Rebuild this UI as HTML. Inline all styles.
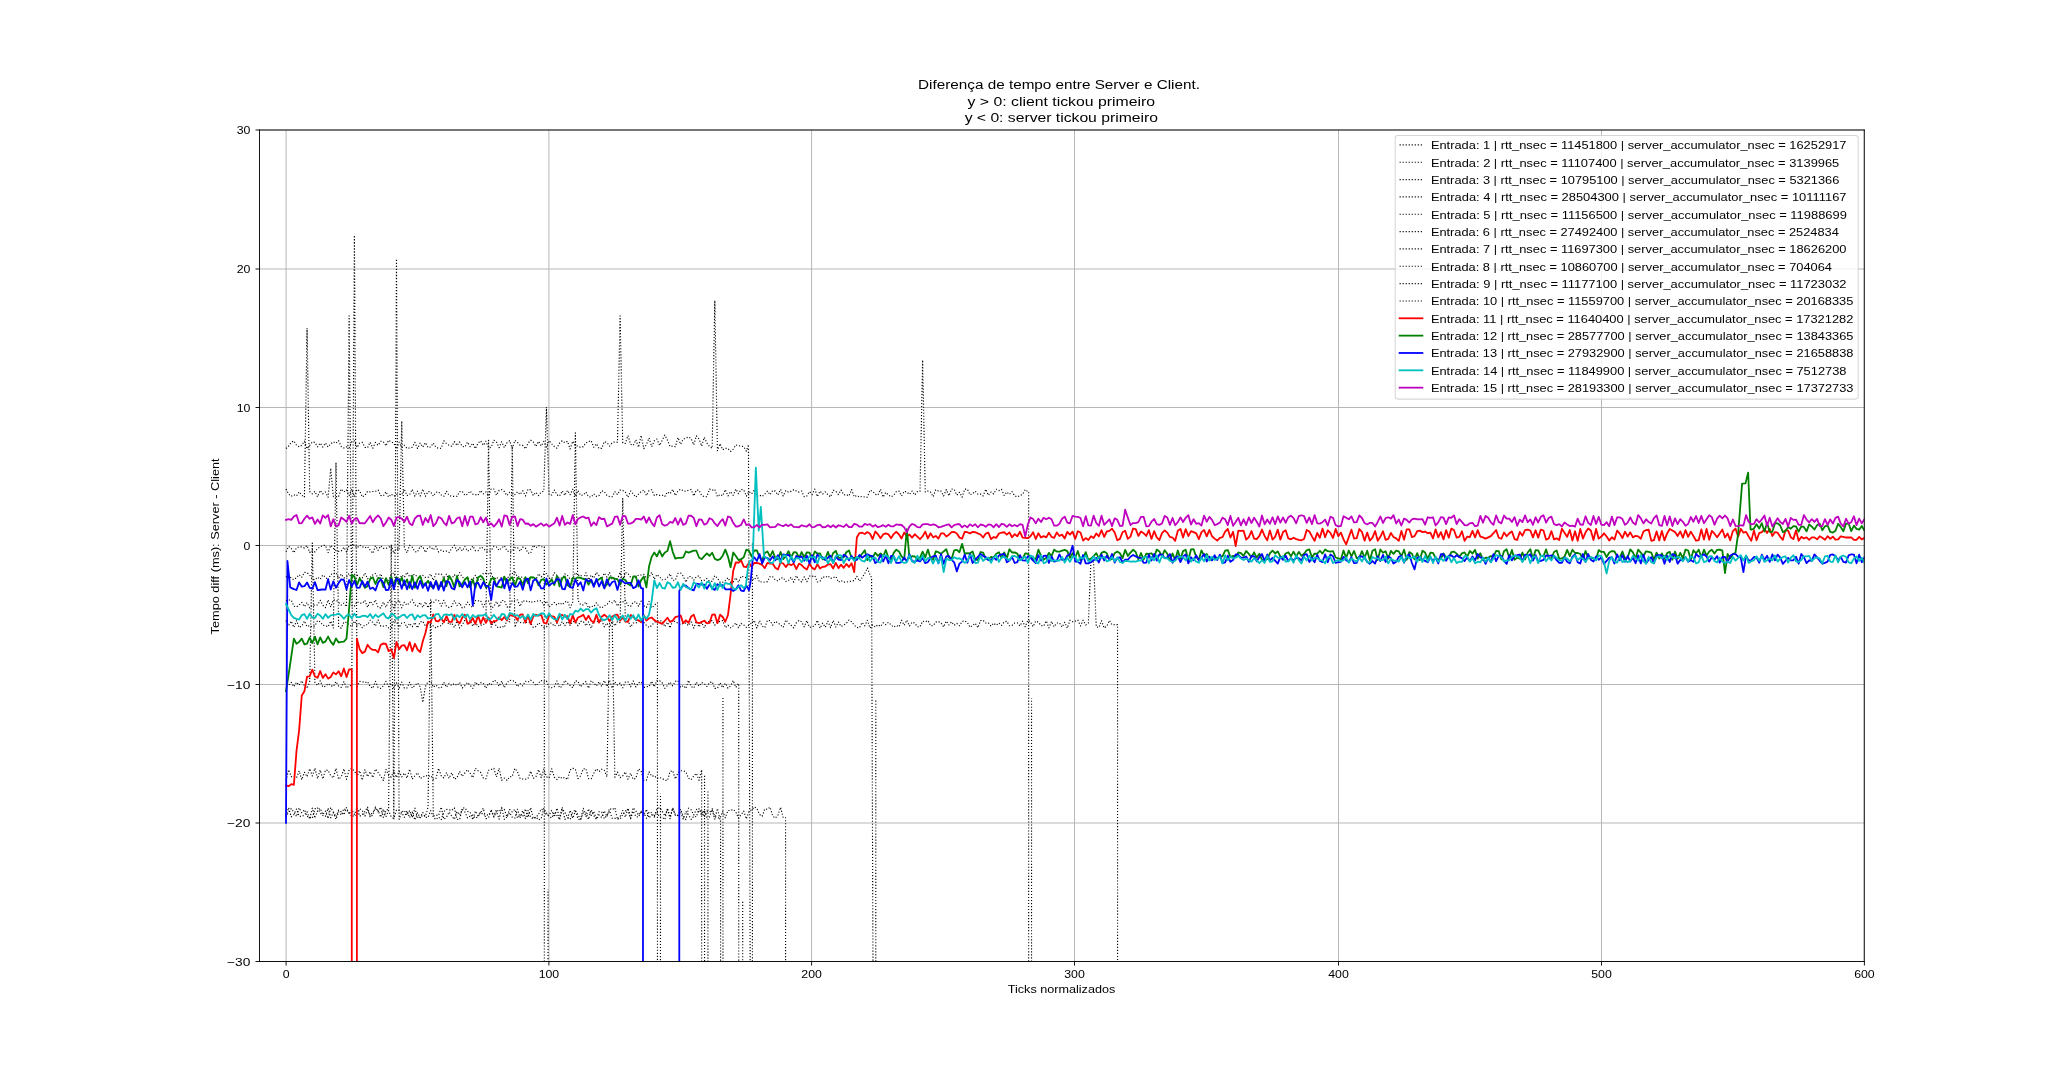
<!DOCTYPE html>
<html><head><meta charset="utf-8"><title>chart</title><style>html,body{margin:0;padding:0;background:#fff;width:2071px;height:1080px;overflow:hidden;}body{font-family:"Liberation Sans", sans-serif;position:relative}</style></head><body>
<svg width="2071" height="1080" viewBox="0 0 2071 1080" style="position:absolute;left:0;top:0;will-change:transform" font-family='"Liberation Sans", sans-serif'>
<rect x="0" y="0" width="2071" height="1080" fill="#ffffff"/>
<defs><clipPath id="ax"><rect x="259.5" y="130.0" width="1604.90" height="831.50"/></clipPath></defs>
<path d="M286.10 130.0V961.5M548.90 130.0V961.5M811.60 130.0V961.5M1074.50 130.0V961.5M1338.50 130.0V961.5M1601.50 130.0V961.5M1864.40 130.0V961.5M259.5 961.50H1864.4M259.5 823.00H1864.4M259.5 684.50H1864.4M259.5 545.50H1864.4M259.5 407.50H1864.4M259.5 269.00H1864.4M259.5 130.00H1864.4" stroke="#b0b0b0" stroke-width="0.92" fill="none"/>
<g clip-path="url(#ax)" fill="none" stroke-linejoin="round" stroke-linecap="butt">
<path d="M286.00 448.45L288.63 446.21L291.26 442.23L293.89 440.95L296.52 445.36L299.15 446.88L301.78 445.26L304.41 441.20L307.05 448.81L309.68 445.37L312.31 441.88L314.94 442.48L317.57 446.84L320.20 443.09L322.83 447.12L325.46 443.05L328.09 446.98L330.72 443.84L333.35 441.82L335.98 443.22L338.61 440.68L341.24 446.51L343.88 447.93L346.51 446.84L349.14 447.78L351.77 441.71L354.40 440.73L357.03 447.47L359.66 443.01L362.29 442.36L364.92 447.32L367.55 447.79L370.18 442.27L372.81 448.19L375.44 442.44L378.07 445.36L380.71 441.27L383.34 441.69L385.97 445.89L388.60 440.22L391.23 441.89L393.86 443.05L396.49 448.84L399.12 442.19L401.75 447.32L404.38 445.27L407.01 448.34L409.64 448.04L412.27 447.21L414.90 442.32L417.53 448.53L420.17 443.17L422.80 447.08L425.43 442.62L428.06 447.60L430.69 446.98L433.32 443.06L435.95 447.45L438.58 448.26L441.21 448.33L443.84 440.75L446.47 443.61L449.10 445.31L451.73 446.19L454.36 441.57L457.00 445.51L459.63 441.93L462.26 446.28L464.89 446.97L467.52 442.14L470.15 446.71L472.78 443.21L475.41 448.64L478.04 443.13L480.67 440.84L483.30 445.32L485.93 441.21L488.56 447.91L491.19 447.30L493.83 440.24L496.46 441.97L499.09 447.70L501.72 441.75L504.35 447.63L506.98 442.80L509.61 440.62L512.24 448.49L514.87 440.38L517.50 442.35L520.13 445.28L522.76 445.39L525.39 448.88L528.02 443.27L530.66 440.25L533.29 442.00L535.92 446.56L538.55 441.38L541.18 445.98L543.81 441.41L546.44 447.14L549.07 440.64L551.70 443.85L554.33 446.49L556.96 448.20L559.59 443.12L562.22 440.76L564.85 442.63L567.48 441.33L570.12 448.97L572.75 441.19L575.38 445.89L578.01 446.05L580.64 447.51L583.27 446.64L585.90 442.82L588.53 441.64L591.16 440.58L593.79 447.33L596.42 443.77L599.05 448.52L601.68 448.37L604.31 441.60L606.95 442.50L609.58 446.10L612.21 442.92L614.84 441.79L617.47 442.20L620.10 315.71L622.73 442.93L625.36 443.39L627.99 435.56L630.62 444.27L633.25 445.33L635.88 439.79L638.51 447.24L641.14 435.41L643.78 448.57L646.41 444.59L649.04 437.97L651.67 446.69L654.30 440.71L656.93 439.03L659.56 445.50L662.19 440.40L664.82 435.06L667.45 440.12L670.08 446.49L672.71 446.05L675.34 446.75L677.97 437.59L680.61 444.31L683.24 439.12L685.87 438.14L688.50 436.99L691.13 438.48L693.76 444.78L696.39 435.79L699.02 438.99L701.65 446.06L704.28 437.27L706.91 442.97L709.54 446.48L712.17 448.23L714.80 300.46L717.43 450.78L720.07 443.69L722.70 449.75L725.33 448.25L727.96 448.59L730.59 451.46L733.22 449.11L735.85 444.92L738.48 445.70L741.11 446.23L743.74 446.62L746.37 451.17L748.48 444.59L750.84 1169.36L752.42 1169.36L752.42 542.15" stroke="#000" stroke-width="1.14" stroke-dasharray="1.14 1.88"/>
<path d="M286.00 489.12L288.63 494.01L291.26 496.31L293.89 494.80L296.52 495.86L299.15 491.91L301.78 495.10L304.41 497.23L307.05 328.18L309.68 491.52L312.31 493.81L314.94 491.34L317.57 496.86L320.20 490.49L322.83 493.80L325.46 491.98L328.09 497.24L330.72 468.15L333.35 496.53L335.98 496.92L338.61 496.50L341.24 489.00L343.88 491.90L346.51 489.94L349.14 495.59L351.77 489.20L354.40 496.65L357.03 489.35L359.66 490.84L362.29 496.97L364.92 495.43L367.55 491.32L370.18 491.88L372.81 491.52L375.44 491.37L378.07 489.97L380.71 495.54L383.34 495.79L385.97 491.73L388.60 497.01L391.23 493.98L393.86 496.28L396.49 494.39L399.12 493.92L401.75 494.68L404.38 489.37L407.01 495.56L409.64 494.58L412.27 489.35L414.90 496.25L417.53 491.19L420.17 496.09L422.80 489.09L425.43 496.29L428.06 491.56L430.69 491.91L433.32 496.16L435.95 492.31L438.58 491.93L441.21 494.93L443.84 496.34L446.47 491.27L449.10 495.30L451.73 496.33L454.36 496.38L457.00 496.21L459.63 491.67L462.26 491.35L464.89 495.30L467.52 494.16L470.15 491.08L472.78 494.22L475.41 494.63L478.04 495.20L480.67 490.49L483.30 493.91L485.93 491.90L488.56 495.96L491.19 488.99L493.83 488.95L496.46 495.28L499.09 490.38L501.72 489.64L504.35 491.56L506.98 495.57L509.61 492.34L512.24 494.11L514.87 494.56L517.50 491.82L520.13 494.48L522.76 490.82L525.39 495.98L528.02 489.26L530.66 489.89L533.29 495.52L535.92 492.28L538.55 495.57L541.18 492.13L543.81 491.17L546.44 407.17L549.07 494.74L551.70 495.03L554.33 490.04L556.96 494.79L559.59 496.09L562.22 490.87L564.85 495.43L567.48 490.39L570.12 494.72L572.75 489.16L575.38 496.38L578.01 490.45L580.64 495.35L583.27 495.11L585.90 492.04L588.53 496.72L591.16 497.10L593.79 493.80L596.42 496.46L599.05 495.47L601.68 490.85L604.31 491.52L606.95 495.40L609.58 496.56L612.21 496.67L614.84 491.65L617.47 494.63L620.10 490.07L622.73 490.40L625.36 492.13L627.99 497.24L630.62 490.99L633.25 494.02L635.88 497.21L638.51 494.17L641.14 491.65L643.78 490.06L646.41 495.56L649.04 490.55L651.67 489.80L654.30 495.54L656.93 494.62L659.56 495.34L662.19 495.14L664.82 496.48L667.45 491.95L670.08 493.82L672.71 489.35L675.34 495.52L677.97 491.04L680.61 489.16L683.24 490.80L685.87 491.30L688.50 490.14L691.13 489.45L693.76 495.91L696.39 490.11L699.02 490.22L701.65 495.35L704.28 496.83L706.91 496.60L709.54 489.13L712.17 490.32L714.80 489.34L717.43 496.60L720.07 494.42L722.70 495.78L725.33 489.62L727.96 495.88L730.59 491.57L733.22 495.36L735.85 489.05L738.48 493.72L741.11 489.51L743.74 489.80L746.37 496.10L749.00 491.52L751.63 493.81L754.26 489.80L756.90 496.36L759.53 495.14L762.16 496.50L764.79 494.19L767.42 491.12L770.05 494.76L772.68 490.50L775.31 491.17L777.94 495.06L780.57 489.39L783.20 496.01L785.83 490.56L788.46 492.19L791.09 491.39L793.73 489.65L796.36 491.08L798.99 492.14L801.62 491.08L804.25 496.72L806.88 495.94L809.51 491.64L812.14 494.53L814.77 489.08L817.40 496.61L820.03 491.18L822.66 493.99L825.29 491.88L827.92 494.75L830.55 496.97L833.19 490.21L835.82 491.31L838.45 494.55L841.08 490.07L843.71 494.97L846.34 494.54L848.97 495.95L851.60 489.56L854.23 496.82L856.86 495.49L859.49 497.07L862.12 496.37L864.75 497.02L867.38 497.17L870.02 490.27L872.65 491.17L875.28 494.33L877.91 494.96L880.54 489.31L883.17 497.11L885.80 492.37L888.43 494.98L891.06 496.83L893.69 495.26L896.32 491.63L898.95 491.09L901.58 495.97L904.21 491.35L906.85 492.13L909.48 494.44L912.11 490.98L914.74 494.92L917.37 491.62L920.00 491.28L922.63 360.05L925.26 491.96L927.89 490.95L930.52 492.00L933.15 496.70L935.78 489.75L938.41 491.07L941.04 491.08L943.67 495.90L946.31 489.51L948.94 495.79L951.57 488.99L954.20 489.49L956.83 495.17L959.46 492.30L962.09 497.23L964.72 489.15L967.35 489.23L969.98 494.79L972.61 493.74L975.24 491.23L977.87 494.23L980.50 494.04L983.14 496.01L985.77 489.29L988.40 495.41L991.03 491.98L993.66 493.93L996.29 489.22L998.92 490.62L1001.55 489.37L1004.18 495.45L1006.81 492.05L1009.44 494.46L1012.07 491.71L1014.70 495.91L1017.33 496.91L1019.97 495.51L1022.60 494.29L1025.23 489.58L1027.86 491.72L1028.65 491.72L1028.65 1169.36L1031.54 1169.36L1031.54 698.19" stroke="#000" stroke-width="1.14" stroke-dasharray="1.14 1.88"/>
<path d="M286.00 551.76L288.63 546.46L291.26 548.36L293.89 552.80L296.52 547.76L299.15 546.93L301.78 546.91L304.41 548.06L307.05 545.52L309.68 552.46L312.31 550.06L314.94 551.93L317.57 548.48L320.20 546.92L322.83 545.49L325.46 545.34L328.09 552.67L330.72 545.28L333.35 548.25L335.98 550.60L338.61 551.38L341.24 550.90L343.88 547.23L346.51 551.91L349.14 545.40L351.77 545.31L354.40 545.09L357.03 548.01L359.66 545.18L362.29 546.58L364.92 547.84L367.55 546.56L370.18 550.06L372.81 553.34L375.44 545.76L378.07 550.37L380.71 545.87L383.34 548.43L385.97 548.43L388.60 547.42L391.23 545.13L393.86 553.37L396.49 548.32L399.12 549.95L401.75 421.03L404.38 548.04L407.01 552.90L409.64 545.20L412.27 547.26L414.90 551.68L417.53 551.94L420.17 546.40L422.80 546.80L425.43 552.38L428.06 547.53L430.69 546.75L433.32 549.88L435.95 546.54L438.58 552.01L441.21 550.05L443.84 551.49L446.47 551.08L449.10 552.45L451.73 548.38L454.36 545.19L457.00 551.45L459.63 547.46L462.26 550.94L464.89 546.49L467.52 551.17L470.15 549.93L472.78 545.99L475.41 550.62L478.04 550.68L480.67 547.05L483.30 548.23L485.93 551.02L488.56 551.39L491.19 550.44L493.83 546.29L496.46 547.00L499.09 550.27L501.72 547.92L504.35 545.63L506.98 550.82L509.61 552.11L512.24 551.06L514.87 547.56L517.50 547.63L520.13 551.31L522.76 547.14L525.39 548.04L528.02 553.17L530.66 553.33L533.29 545.23L535.92 547.81L538.55 545.63L541.18 546.76L544.33 546.76L544.33 1169.36L548.02 1169.36L548.02 889.43" stroke="#000" stroke-width="1.14" stroke-dasharray="1.14 1.88"/>
<path d="M286.00 577.23L288.63 575.07L291.26 578.28L293.89 579.69L296.52 577.65L299.15 574.64L301.78 577.24L304.41 572.34L307.05 572.76L309.68 574.93L312.31 579.08L314.94 579.88L317.57 577.17L320.20 579.23L322.83 574.99L325.46 577.18L328.09 579.92L330.72 574.55L333.35 573.59L335.98 572.62L338.61 578.32L341.24 574.09L343.88 577.94L346.51 577.01L349.14 573.40L351.77 578.75L354.40 574.40L357.03 574.92L359.66 577.58L362.29 577.84L364.92 572.97L367.55 578.83L370.18 577.22L372.81 574.81L375.44 573.44L378.07 578.03L380.71 573.99L383.34 579.33L385.97 580.24L388.60 580.25L391.23 574.59L393.86 572.87L396.49 580.19L399.12 579.75L401.75 574.94L404.38 577.34L407.01 572.22L409.64 576.89L412.27 575.01L414.90 574.33L417.53 577.20L420.17 578.36L422.80 575.40L425.43 577.46L428.06 577.39L430.69 573.88L433.32 580.39L435.95 573.74L438.58 574.17L441.21 573.93L443.84 578.31L446.47 574.13L449.10 580.00L451.73 578.62L454.36 574.72L457.00 577.60L459.63 572.54L462.26 577.04L464.89 578.86L467.52 578.29L470.15 579.17L472.78 579.49L475.41 575.29L478.04 579.95L480.67 580.13L483.30 573.29L485.93 573.34L488.56 573.75L491.19 573.19L493.83 580.12L496.46 577.12L499.09 580.26L501.72 577.02L504.35 577.31L506.98 579.22L509.61 575.02L512.24 573.60L514.87 572.34L517.50 576.87L520.13 576.91L522.76 577.27L525.39 579.63L528.02 578.81L530.66 577.57L533.29 578.03L535.92 579.59L538.55 573.75L541.18 576.98L543.81 573.89L546.44 573.47L549.07 578.14L551.70 578.71L554.33 572.65L556.96 575.31L559.59 578.21L562.22 577.96L564.85 573.89L567.48 575.28L570.12 579.06L572.75 578.67L575.38 572.58L578.01 575.38L580.64 574.92L583.27 579.82L585.90 572.79L588.53 579.95L591.16 575.09L593.79 578.06L596.42 572.42L599.05 575.59L601.68 578.79L604.31 573.09L606.95 577.13L609.58 572.62L612.21 579.57L614.84 579.08L617.47 579.02L620.10 572.39L622.73 580.08L625.36 572.55L627.99 573.45L630.62 577.36L633.25 578.14L635.88 577.33L638.51 575.11L641.14 574.99L643.78 574.30L646.41 578.10L649.04 577.19L651.67 572.31L654.30 579.17L656.93 574.55L659.56 576.93L662.19 579.79L664.82 579.71L667.45 577.42L670.08 573.86L672.71 580.18L675.34 580.28L677.97 573.31L680.61 572.98L683.24 576.04L685.87 582.26L688.50 576.73L691.13 576.42L693.76 580.21L696.39 576.64L699.02 575.84L701.65 580.71L704.28 580.36L706.91 578.45L709.54 581.12L712.17 581.34L714.80 575.69L717.43 578.03L720.07 582.40L722.70 582.24L725.33 580.45L727.96 577.73L730.59 582.26L733.22 581.82L735.85 577.79L738.48 582.32L741.11 576.16L743.74 576.88L746.37 577.72L749.00 579.99L751.63 578.40L754.26 579.89L756.90 575.57L759.53 582.15L762.16 581.68L764.79 582.33L767.42 581.65L770.05 576.45L772.68 576.86L775.31 579.98L777.94 580.95L780.57 577.99L783.20 577.74L785.83 581.54L788.46 580.50L791.09 577.24L793.73 582.11L796.36 575.66L798.99 579.99L801.62 581.95L804.25 576.86L806.88 581.64L809.51 576.06L812.14 576.41L814.77 575.73L817.40 582.02L820.03 581.26L822.66 576.67L825.29 577.59L827.92 575.85L830.55 578.38L833.19 577.74L835.82 576.54L838.45 582.17L841.08 580.53L843.71 582.15L846.34 582.13L848.97 581.59L851.60 581.08L854.23 580.57L856.86 576.39L859.49 581.14L862.12 577.75L864.75 573.47L867.38 567.92L870.02 574.85L871.59 577.62L873.70 1169.36L875.80 1169.36L875.80 699.57" stroke="#000" stroke-width="1.14" stroke-dasharray="1.14 1.88"/>
<path d="M286.00 600.71L288.63 600.00L291.26 600.07L293.89 606.22L296.52 606.87L299.15 604.98L301.78 602.46L304.41 606.61L307.05 602.56L309.68 607.82L312.31 605.14L314.94 605.07L317.57 605.02L320.20 600.25L322.83 605.34L325.46 607.66L328.09 599.93L330.72 606.97L333.35 600.00L335.98 599.91L338.61 602.27L341.24 605.16L343.88 603.10L346.51 606.71L349.14 315.71L351.77 605.67L354.40 606.28L357.03 601.63L359.66 603.13L362.29 603.25L364.92 600.34L367.55 607.36L370.18 601.29L372.81 604.74L375.44 599.95L378.07 607.25L380.71 607.91L383.34 602.08L385.97 607.32L388.60 600.69L391.23 600.29L393.86 607.92L396.49 602.13L399.12 600.09L401.75 607.84L404.38 602.23L407.01 605.20L409.64 602.80L412.27 599.81L414.90 604.75L417.53 606.46L420.17 602.49L422.80 607.50L425.43 601.84L428.06 607.81L430.69 601.59L433.32 602.87L435.95 599.97L438.58 600.55L441.21 606.11L443.84 600.34L446.47 606.18L449.10 607.59L451.73 606.18L454.36 600.75L457.00 605.61L459.63 602.81L462.26 608.07L464.89 606.79L467.52 602.13L470.15 605.54L472.78 607.64L475.41 600.55L478.04 600.88L480.67 600.65L483.30 607.07L485.93 601.61L488.56 600.89L491.19 607.92L493.83 606.63L496.46 601.40L499.09 606.95L501.72 600.44L504.35 600.51L506.98 606.85L509.61 607.50L512.24 600.35L514.87 600.90L517.50 599.95L520.13 606.45L522.76 600.37L525.39 601.64L528.02 600.79L530.66 602.72L533.29 601.28L535.92 601.84L538.55 600.59L541.18 600.78L543.81 605.14L546.44 601.03L549.07 607.00L551.70 604.73L554.33 602.53L556.96 605.05L559.59 602.69L562.22 604.70L564.85 601.99L567.48 601.24L570.12 607.77L572.75 601.90L575.38 432.81L578.01 600.39L580.64 604.70L583.27 604.91L585.90 602.13L588.53 607.96L591.16 606.06L593.79 606.85L596.42 602.83L599.05 606.57L601.68 608.00L604.31 605.82L606.95 604.58L609.58 601.33L612.21 602.83L614.84 600.18L617.47 606.10L620.10 602.30L622.73 601.99L625.36 600.10L627.99 605.50L630.62 606.33L633.25 602.20L635.88 601.59L638.51 606.26L641.14 601.13L643.78 605.61L646.41 607.50L649.04 601.45L651.67 607.88L654.30 605.45L656.93 602.78L657.45 602.78L657.45 1169.36L660.48 1169.36L660.48 793.81" stroke="#000" stroke-width="1.14" stroke-dasharray="1.14 1.88"/>
<path d="M286.00 620.52L288.63 625.60L291.26 621.08L293.89 627.36L296.52 620.70L299.15 627.51L301.78 626.13L304.41 621.01L307.05 626.63L309.68 625.61L312.31 627.09L314.94 625.86L317.57 620.60L320.20 621.85L322.83 625.37L325.46 625.70L328.09 626.75L330.72 621.11L333.35 627.97L335.98 462.60L338.61 627.14L341.24 628.12L343.88 622.15L346.51 622.35L349.14 624.99L351.77 626.53L354.40 621.08L357.03 625.36L359.66 622.94L362.29 627.73L364.92 624.72L367.55 624.73L370.18 620.23L372.81 622.34L375.44 626.05L378.07 619.89L380.71 626.17L383.34 626.08L385.97 625.54L388.60 627.82L391.23 627.81L393.86 620.49L396.49 621.60L399.12 627.17L401.75 623.12L404.38 622.48L407.01 627.44L409.64 623.35L412.27 626.75L414.90 622.52L417.53 627.95L420.17 621.97L422.80 621.26L425.43 626.35L428.06 622.92L430.69 625.75L433.32 625.81L435.95 628.10L438.58 626.00L441.21 625.80L443.84 621.70L446.47 620.11L449.10 624.69L451.73 623.22L454.36 627.40L457.00 620.89L459.63 627.99L462.26 624.89L464.89 620.08L467.52 621.93L470.15 620.55L472.78 626.33L475.41 622.14L478.04 626.88L480.67 625.18L483.30 625.02L485.93 621.14L488.56 440.43L491.19 627.15L493.83 620.48L496.46 626.86L499.09 627.88L501.72 626.27L504.35 627.47L506.98 620.09L509.61 621.87L512.24 445.97L514.87 627.19L517.50 620.60L520.13 622.41L522.76 623.13L525.39 622.44L528.02 621.90L530.66 623.31L533.29 627.56L535.92 626.56L538.55 622.81L541.18 624.86L543.81 627.38L546.44 627.15L549.07 623.15L551.70 623.02L554.33 626.31L556.96 623.16L559.59 626.51L562.22 621.57L564.85 625.67L567.48 621.42L570.12 625.46L572.75 621.43L575.38 621.94L578.01 625.79L580.64 621.40L583.27 621.41L585.90 625.82L588.53 621.87L591.16 628.20L593.79 621.08L596.42 621.14L599.05 622.11L601.68 619.99L604.31 626.88L606.95 623.21L609.58 627.35L612.21 620.91L614.84 625.97L617.47 621.51L620.10 622.63L622.73 498.63L625.36 621.76L627.99 620.37L630.62 627.01L633.25 623.03L635.88 623.25L638.51 620.77L641.14 620.85L643.78 622.41L646.41 625.39L649.04 627.42L651.67 625.43L654.30 622.52L656.93 620.79L659.56 620.92L662.19 620.68L664.82 626.78L667.45 622.13L670.08 628.02L672.71 620.17L675.34 621.88L677.97 623.24L680.61 624.71L683.24 623.41L685.87 623.11L688.50 625.64L691.13 621.94L693.76 628.12L696.39 621.33L699.02 626.89L701.65 622.47L704.28 627.81L706.91 621.84L709.54 621.39L712.17 620.56L714.80 625.10L717.43 621.75L720.07 621.55L722.70 620.56L725.33 627.65L727.96 625.22L730.59 627.74L733.22 625.86L735.85 622.95L738.48 627.69L741.11 623.41L743.74 624.96L746.37 627.39L749.00 624.99L751.63 622.98L754.26 620.47L756.90 628.04L759.53 620.68L762.16 625.96L764.79 627.65L767.42 620.36L770.05 620.60L772.68 625.14L775.31 621.29L777.94 622.88L780.57 625.07L783.20 627.42L785.83 619.96L788.46 622.98L791.09 625.23L793.73 627.91L796.36 622.77L798.99 620.39L801.62 621.81L804.25 626.84L806.88 620.58L809.51 627.27L812.14 626.88L814.77 625.64L817.40 620.31L820.03 628.18L822.66 623.21L825.29 627.22L827.92 621.22L830.55 627.62L833.19 620.48L835.82 627.03L838.45 621.99L841.08 626.55L843.71 625.04L846.34 623.38L848.97 620.00L851.60 621.73L854.23 625.10L856.86 627.48L859.49 627.72L862.12 622.52L864.75 625.89L867.38 620.30L870.02 628.14L872.65 624.83L875.28 627.01L877.91 624.68L880.54 626.42L883.17 622.82L885.80 624.72L888.43 622.35L891.06 624.88L893.69 627.15L896.32 625.44L898.95 626.77L901.58 620.33L904.21 625.32L906.85 620.16L909.48 626.03L912.11 622.15L914.74 623.11L917.37 626.74L920.00 626.82L922.63 621.17L925.26 621.72L927.89 620.47L930.52 625.61L933.15 625.73L935.78 622.11L938.41 621.50L941.04 622.85L943.67 626.97L946.31 621.08L948.94 624.95L951.57 621.87L954.20 625.30L956.83 623.42L959.46 625.76L962.09 621.33L964.72 620.89L967.35 622.42L969.98 627.24L972.61 625.52L975.24 623.24L977.87 627.75L980.50 620.65L983.14 620.37L985.77 623.04L988.40 622.95L991.03 626.08L993.66 623.18L996.29 625.29L998.92 623.07L1001.55 625.44L1004.18 621.94L1006.81 621.26L1009.44 625.81L1012.07 625.35L1014.70 623.02L1017.33 622.93L1019.97 625.91L1022.60 621.14L1025.23 626.78L1027.86 620.20L1030.49 621.99L1033.12 626.71L1035.75 621.15L1038.38 622.14L1041.01 625.57L1043.64 626.00L1046.27 620.91L1048.90 627.87L1051.53 621.34L1054.16 626.75L1056.80 623.06L1059.43 622.86L1062.06 627.06L1064.69 622.27L1067.32 628.20L1069.95 620.30L1072.58 621.72L1075.21 621.16L1077.84 619.97L1080.47 625.91L1083.10 620.21L1085.73 624.92L1088.36 623.02L1090.99 559.61L1093.62 562.38L1096.26 626.82L1098.89 627.54L1101.52 620.66L1104.15 628.01L1106.78 626.15L1109.41 620.43L1112.04 624.73L1114.67 624.69L1117.56 624.69L1117.56 1169.36" stroke="#000" stroke-width="1.14" stroke-dasharray="1.14 1.88"/>
<path d="M286.00 685.49L288.63 685.21L291.26 682.41L293.89 686.75L296.52 682.17L299.15 685.27L301.78 680.78L304.41 685.74L307.05 688.30L309.68 682.30L312.31 542.98L314.94 682.68L317.57 685.37L320.20 680.82L322.83 687.01L325.46 686.27L328.09 683.48L330.72 685.68L333.35 686.46L335.98 681.64L338.61 686.01L341.24 687.42L343.88 681.68L346.51 688.05L349.14 685.97L351.77 685.37L354.40 235.33L357.03 686.68L359.66 681.35L362.29 681.68L364.92 682.60L367.55 681.61L370.18 686.57L372.81 688.29L375.44 681.36L378.07 687.43L380.71 688.46L383.34 685.96L385.97 681.34L388.60 686.59L391.23 683.29L393.86 687.67L396.49 682.83L399.12 688.03L401.75 682.12L404.38 688.08L407.01 688.01L409.64 682.24L412.27 688.08L414.90 685.49L417.53 682.89L420.17 686.67L422.80 702.35L425.43 686.43L428.06 681.71L430.69 681.27L433.32 687.14L435.95 685.14L438.58 687.71L441.21 687.77L443.84 682.30L446.47 687.20L449.10 683.47L451.73 685.53L454.36 683.52L457.00 685.49L459.63 682.42L462.26 688.04L464.89 685.48L467.52 682.48L470.15 685.39L472.78 688.46L475.41 682.00L478.04 685.31L480.67 682.77L483.30 683.14L485.93 688.31L488.56 683.19L491.19 685.05L493.83 680.25L496.46 681.25L499.09 686.25L501.72 680.98L504.35 687.71L506.98 682.92L509.61 680.23L512.24 680.86L514.87 681.09L517.50 686.78L520.13 683.60L522.76 685.94L525.39 681.26L528.02 682.13L530.66 680.21L533.29 682.42L535.92 685.76L538.55 682.98L541.18 680.52L543.81 682.01L546.44 680.88L549.07 687.29L551.70 687.72L554.33 686.64L556.96 680.92L559.59 687.78L562.22 686.35L564.85 680.36L567.48 683.11L570.12 685.49L572.75 687.80L575.38 680.79L578.01 681.38L580.64 686.89L583.27 683.66L585.90 681.41L588.53 688.25L591.16 680.63L593.79 682.96L596.42 685.99L599.05 681.63L601.68 686.43L604.31 680.49L606.95 686.57L609.58 680.51L612.21 688.20L614.84 681.83L617.47 685.02L620.10 683.06L622.73 687.78L625.36 682.03L627.99 681.74L630.62 686.79L633.25 680.93L635.88 686.93L638.51 682.73L641.14 681.91L643.78 687.64L646.41 686.52L649.04 686.74L651.67 681.26L654.30 686.84L656.93 680.38L659.56 680.61L662.19 682.79L664.82 688.29L667.45 685.44L670.08 682.14L672.71 685.80L675.34 681.34L677.97 680.54L680.61 687.48L683.24 685.46L685.87 688.37L688.50 680.34L691.13 686.68L693.76 687.90L696.39 682.18L699.02 686.15L701.65 682.58L704.28 683.64L706.91 686.51L709.54 682.53L712.17 681.90L714.80 688.43L717.43 688.39L720.07 682.77L722.70 687.71L725.33 683.25L727.96 688.17L730.59 685.87L733.22 680.46L735.85 687.43L738.48 683.50L738.74 683.50L738.74 1169.36L742.69 1169.36L742.69 900.51" stroke="#000" stroke-width="1.14" stroke-dasharray="1.14 1.88"/>
<path d="M286.00 780.44L288.63 769.74L291.26 776.65L293.89 776.45L296.52 777.78L299.15 770.85L301.78 779.74L304.41 772.23L307.05 776.76L309.68 768.69L312.31 775.95L314.94 768.22L317.57 778.63L320.20 769.97L322.83 779.01L325.46 770.03L328.09 770.39L330.72 775.68L333.35 777.93L335.98 768.46L338.61 779.21L341.24 776.86L343.88 768.82L346.51 779.39L349.14 769.81L351.77 768.44L354.40 770.80L357.03 776.14L359.66 770.77L362.29 780.13L364.92 769.75L367.55 776.64L370.18 771.65L372.81 777.59L375.44 769.05L378.07 772.54L380.71 776.22L383.34 780.51L385.97 769.41L388.60 775.41L391.23 777.15L393.86 771.16L396.49 777.52L399.12 771.26L401.75 776.87L404.38 773.02L407.01 778.10L409.64 769.19L412.27 779.10L414.90 775.68L417.53 772.73L420.17 778.38L422.80 777.21L425.43 775.36L428.06 776.46L430.69 775.52L433.32 779.37L435.95 778.42L438.58 768.33L441.21 775.78L443.84 777.98L446.47 772.65L449.10 778.42L451.73 772.80L454.36 779.19L457.00 777.84L459.63 771.56L462.26 776.39L464.89 772.90L467.52 769.72L470.15 773.35L472.78 777.63L475.41 768.34L478.04 770.81L480.67 772.41L483.30 778.13L485.93 778.77L488.56 770.22L491.19 769.53L493.83 768.27L496.46 776.91L499.09 768.29L501.72 780.33L504.35 778.08L506.98 780.42L509.61 776.91L512.24 776.38L514.87 768.39L517.50 771.82L520.13 778.59L522.76 778.97L525.39 779.20L528.02 778.55L530.66 771.21L533.29 778.15L535.92 776.77L538.55 769.59L541.18 777.57L543.81 769.08L546.44 776.89L549.07 778.02L551.70 768.76L554.33 777.26L556.96 779.53L559.59 776.67L562.22 778.50L564.85 777.29L567.48 779.55L570.12 770.00L572.75 768.21L575.38 769.30L578.01 778.58L580.64 775.80L583.27 768.87L585.90 768.57L588.53 778.56L591.16 778.80L593.79 773.27L596.42 768.92L599.05 771.53L601.68 769.15L604.31 770.29L606.95 776.91L609.58 623.35L612.21 623.35L614.84 777.19L617.47 772.12L620.10 777.63L622.73 775.87L625.36 771.92L627.99 779.31L630.62 773.20L633.25 779.24L635.88 778.31L638.51 768.80L641.14 770.93L643.78 780.30L646.41 780.28L649.04 771.74L651.67 776.24L654.30 775.66L656.93 778.45L659.56 777.54L662.19 778.41L664.82 780.23L667.45 780.55L670.08 771.53L672.71 770.67L675.34 778.95L677.97 772.79L680.61 770.82L683.24 770.64L685.87 771.94L688.50 778.13L691.13 779.71L693.76 776.00L696.39 773.29L699.02 780.35L701.65 769.77L701.65 769.77L701.65 1169.36L707.96 1169.36L707.96 791.04" stroke="#000" stroke-width="1.14" stroke-dasharray="1.14 1.88"/>
<path d="M286.00 816.12L288.63 807.68L291.26 816.81L293.89 814.57L296.52 809.01L299.15 816.15L301.78 816.54L304.41 814.98L307.05 811.69L309.68 819.04L312.31 808.17L314.94 818.10L317.57 810.73L320.20 808.43L322.83 814.61L325.46 811.16L328.09 818.44L330.72 807.58L333.35 811.98L335.98 816.75L338.61 810.02L341.24 811.68L343.88 814.79L346.51 807.53L349.14 814.19L351.77 809.41L354.40 814.59L357.03 807.39L359.66 816.26L362.29 814.64L364.92 811.36L367.55 807.19L370.18 817.09L372.81 814.94L375.44 807.00L378.07 811.63L380.71 807.23L383.34 817.38L385.97 810.33L388.60 809.15L391.23 545.75L393.86 818.72L396.49 258.89L399.12 819.37L401.75 812.18L404.38 810.53L407.01 815.28L409.64 810.55L412.27 817.48L414.90 808.12L417.53 818.28L420.17 816.78L422.80 815.46L425.43 816.40L428.06 807.16L430.69 599.80L433.32 816.10L435.95 815.05L438.58 815.52L441.21 807.10L443.84 819.16L446.47 817.36L449.10 811.95L451.73 816.21L454.36 819.27L457.00 811.53L459.63 814.87L462.26 809.33L464.89 811.93L467.52 817.88L470.15 816.17L472.78 815.04L475.41 818.24L478.04 816.77L480.67 812.02L483.30 815.06L485.93 814.59L488.56 815.32L491.19 811.34L493.83 817.11L496.46 811.36L499.09 819.16L501.72 807.28L504.35 819.41L506.98 817.03L509.61 809.43L512.24 811.93L514.87 809.40L517.50 817.99L520.13 814.69L522.76 816.55L525.39 808.90L528.02 817.34L530.66 807.62L533.29 818.51L535.92 817.46L538.55 814.34L541.18 809.02L543.81 810.12L546.44 815.15L549.07 815.11L551.70 810.39L554.33 816.98L556.96 808.16L559.59 818.29L562.22 807.22L564.85 819.32L567.48 818.56L570.12 810.43L572.75 818.28L575.38 811.10L578.01 814.78L580.64 819.32L583.27 808.35L585.90 816.91L588.53 808.91L591.16 815.50L593.79 811.23L596.42 819.15L599.05 811.73L601.68 811.97L604.31 818.66L606.95 815.31L609.58 810.82L612.21 818.39L614.84 818.31L617.47 819.08L620.10 819.02L622.73 814.65L625.36 810.96L627.99 809.67L630.62 818.58L633.25 811.17L635.88 816.59L638.51 817.16L641.14 811.29L643.78 815.87L646.41 809.39L649.04 817.92L651.67 814.87L654.30 815.94L656.93 809.06L659.56 807.59L662.19 811.15L664.82 815.92L667.45 809.35L670.08 818.74L672.71 807.86L675.34 814.67L677.97 815.65L680.61 811.90L683.24 819.03L685.87 811.48L688.50 814.65L691.13 819.42L693.76 816.24L696.39 816.83L699.02 808.62L701.65 815.58L704.28 810.23L706.91 817.39L709.54 817.17L712.17 808.65L714.80 816.68L717.43 817.73L720.07 818.14L722.70 811.51L725.33 817.75L727.96 810.52L730.59 810.43L733.22 809.38L735.85 812.13L738.48 818.27L741.11 814.66L743.74 811.16L746.37 818.93L749.00 811.20L751.63 810.03L754.26 806.98L756.90 808.48L759.53 814.47L762.16 816.26L764.79 808.92L767.42 809.33L770.05 807.16L772.68 816.02L775.31 818.21L777.94 815.13L780.57 807.33L783.20 817.70L785.57 817.70L785.57 1169.36" stroke="#000" stroke-width="1.14" stroke-dasharray="1.14 1.88"/>
<path d="M286.00 817.11L288.63 811.87L291.26 808.60L293.89 812.12L296.52 816.58L299.15 807.92L301.78 812.73L304.41 809.77L307.05 816.34L309.68 817.26L312.31 818.35L314.94 808.90L317.57 807.83L320.20 812.73L322.83 815.55L325.46 816.44L328.09 808.21L330.72 817.75L333.35 812.62L335.98 819.31L338.61 811.78L341.24 815.03L343.88 808.63L346.51 810.14L349.14 812.17L351.77 816.82L354.40 815.44L357.03 815.35L359.66 808.69L362.29 810.67L364.92 816.14L367.55 809.70L370.18 815.47L372.81 812.09L375.44 808.61L378.07 810.42L380.71 817.14L383.34 809.19L385.97 816.53L388.60 810.59L391.23 816.91L393.86 818.41L396.49 810.18L399.12 810.21L401.75 812.63L404.38 817.28L407.01 810.74L409.64 817.69L412.27 812.09L414.90 819.97L417.53 812.78L420.17 817.68L422.80 812.48L425.43 817.24L428.06 817.41L430.69 810.65L433.32 817.21L435.95 819.60L438.58 817.08L441.21 819.66L443.84 811.71L446.47 809.33L449.10 809.85L451.73 810.43L454.36 807.87L457.00 819.39L459.63 819.55L462.26 808.13L464.89 807.87L467.52 811.45L470.15 812.22L472.78 819.71L475.41 811.11L478.04 815.87L480.67 812.46L483.30 808.26L485.93 818.78L488.56 817.61L491.19 809.45L493.83 816.25L496.46 809.64L499.09 811.86L501.72 808.33L504.35 809.51L506.98 817.08L509.61 812.67L512.24 817.26L514.87 818.17L517.50 809.28L520.13 817.53L522.76 810.63L525.39 818.69L528.02 810.60L530.66 817.38L533.29 818.65L535.92 816.99L538.55 819.95L541.18 818.66L543.81 808.48L546.44 812.88L549.07 816.55L551.70 818.07L554.33 811.98L556.96 815.34L559.59 819.80L562.22 809.02L564.85 811.95L567.48 817.17L570.12 819.45L572.75 811.90L575.38 809.92L578.01 819.13L580.64 819.90L583.27 812.71L585.90 812.70L588.53 819.39L591.16 809.78L593.79 815.67L596.42 819.42L599.05 815.00L601.68 817.55L604.31 810.86L606.95 816.68L609.58 808.38L612.21 809.73L614.84 807.74L617.47 819.21L620.10 816.66L622.73 810.54L625.36 817.13L627.99 808.03L630.62 818.20L633.25 807.80L635.88 811.06L638.51 815.10L641.14 811.32L643.78 812.70L646.41 818.21L649.04 811.98L651.67 812.74L654.30 817.11L656.93 811.93L659.56 816.99L662.19 817.32L664.82 819.50L667.45 808.30L670.08 817.07L672.71 808.25L675.34 815.34L677.97 815.47L680.61 809.14L683.24 816.37L685.87 819.56L688.50 808.16L691.13 809.74L693.76 814.90L696.39 809.38L699.02 812.45L701.65 810.45L704.28 816.95L706.91 811.08L709.54 811.97L712.17 810.15L714.80 819.14L717.43 808.53L720.07 819.71L720.59 819.71L720.59 1169.36L722.96 1169.36L722.96 696.80" stroke="#000" stroke-width="1.14" stroke-dasharray="1.14 1.88"/>
<path d="M704.54 775.79L704.54 1169.36" stroke="#000" stroke-width="1.14" stroke-dasharray="1.14 1.88"/>
<path d="M286.00 785.49L288.63 786.19L291.26 784.11L293.89 784.80L296.52 750.85L299.15 730.06L301.78 695.42L304.41 691.26L307.05 676.71L309.68 676.27L312.31 669.64L314.94 676.49L317.57 677.81L320.20 670.98L322.83 677.89L325.46 674.27L328.09 678.62L330.72 676.98L333.35 672.34L335.98 674.36L338.61 671.27L341.24 676.26L343.88 668.44L346.51 677.09L349.14 669.29L351.77 669.29L351.77 1169.36L356.90 1169.36L356.90 638.60L359.66 649.32L362.29 653.13L364.92 651.60L367.55 644.76L370.18 648.22L372.81 649.97L375.44 649.90L378.07 652.34L380.71 644.87L383.34 643.49L385.97 643.87L388.60 651.19L391.23 649.28L393.86 658.00L396.49 641.96L399.12 649.15L401.75 645.66L404.38 645.04L407.01 650.22L409.64 642.10L412.27 651.26L414.90 643.75L417.53 649.28L420.17 652.11L422.80 641.29L425.43 633.06L428.06 621.55L430.69 622.57L433.32 614.39L435.95 620.99L438.58 621.28L441.21 618.17L443.84 622.33L446.47 615.99L449.10 621.79L451.73 621.92L454.36 614.90L457.00 620.56L459.63 623.30L462.26 617.69L464.89 614.59L467.52 623.84L470.15 622.41L472.78 618.04L475.41 623.89L478.04 615.57L480.67 623.32L483.30 617.26L485.93 622.89L488.56 617.53L491.19 623.44L493.83 621.08L496.46 620.77L499.09 617.36L501.72 620.17L504.35 616.95L506.98 620.47L509.61 614.80L512.24 615.76L514.87 616.06L517.50 620.07L520.13 614.72L522.76 614.50L525.39 622.55L528.02 615.46L530.66 624.05L533.29 616.22L535.92 614.76L538.55 615.57L541.18 614.70L543.81 622.75L546.44 623.52L549.07 615.21L551.70 616.11L554.33 616.89L556.96 622.44L559.59 615.83L562.22 614.84L564.85 616.87L567.48 616.07L570.12 623.38L572.75 615.38L575.38 622.40L578.01 617.52L580.64 616.42L583.27 614.68L585.90 619.97L588.53 615.67L591.16 620.62L593.79 622.65L596.42 614.79L599.05 622.67L601.68 616.69L604.31 614.70L606.95 616.88L609.58 621.23L612.21 616.42L614.84 614.97L617.47 614.55L620.10 620.62L622.73 617.34L625.36 621.63L627.99 621.96L630.62 615.01L633.25 616.60L635.88 620.05L638.51 620.10L641.14 622.28L643.78 615.21L646.41 620.49L649.04 618.37L651.67 617.49L654.30 620.12L656.93 621.77L659.56 622.63L662.19 623.88L664.82 620.75L667.45 617.73L670.08 621.87L672.71 620.66L675.34 617.04L677.97 616.32L680.61 615.35L683.24 623.19L685.87 620.28L688.50 622.90L691.13 616.60L693.76 614.72L696.39 622.27L699.02 623.21L701.65 621.84L704.28 620.77L706.91 623.30L709.54 622.88L712.17 614.76L714.80 614.44L717.43 623.19L720.07 614.72L722.70 617.03L725.33 621.74L727.96 615.04L730.59 594.25L733.22 570.69L735.85 562.38L738.48 562.73L741.11 560.30L743.74 566.64L746.37 567.00L749.00 562.66L751.63 566.92L754.26 562.88L756.90 562.99L759.53 563.64L762.16 564.98L764.79 568.16L767.42 562.86L770.05 563.54L772.68 563.42L775.31 567.68L777.94 569.40L780.57 562.46L783.20 563.53L785.83 567.09L788.46 563.60L791.09 565.17L793.73 563.56L796.36 569.07L798.99 563.64L801.62 565.04L804.25 567.79L806.88 569.47L809.51 563.70L812.14 567.86L814.77 569.40L817.40 564.22L820.03 568.46L822.66 566.85L825.29 566.50L827.92 564.51L830.55 564.20L833.19 568.47L835.82 562.85L838.45 568.11L841.08 564.61L843.71 567.87L846.34 563.90L848.97 566.95L851.60 563.18L854.23 572.08L856.86 537.44L859.49 533.03L862.12 532.76L864.75 534.01L867.38 532.10L870.02 533.73L872.65 538.98L875.28 531.48L877.91 534.33L880.54 538.33L883.17 534.45L885.80 533.38L888.43 534.36L891.06 538.20L893.69 534.11L896.32 531.77L898.95 534.39L901.58 538.44L904.21 532.51L906.85 536.17L909.48 534.65L912.11 537.64L914.74 534.29L917.37 536.61L920.00 539.20L922.63 536.25L925.26 531.64L927.89 538.46L930.52 533.23L933.15 537.36L935.78 535.98L938.41 538.72L941.04 533.28L943.67 533.44L946.31 536.48L948.94 534.72L951.57 532.13L954.20 531.94L956.83 533.44L959.46 537.60L962.09 538.59L964.72 531.77L967.35 532.21L969.98 533.44L972.61 531.87L975.24 532.24L977.87 533.44L980.50 534.54L983.14 537.48L985.77 533.60L988.40 532.72L991.03 539.05L993.66 537.05L996.29 537.82L998.92 533.49L1001.55 532.66L1004.18 532.26L1006.81 534.70L1009.44 532.34L1012.07 537.26L1014.70 534.13L1017.33 536.26L1019.97 531.79L1022.60 537.61L1025.23 537.81L1027.86 538.04L1030.49 536.19L1033.12 532.27L1035.75 539.01L1038.38 533.22L1041.01 537.57L1043.64 536.13L1046.27 537.33L1048.90 532.80L1051.53 536.88L1054.16 537.79L1056.80 532.41L1059.43 535.98L1062.06 534.63L1064.69 538.43L1067.32 531.81L1069.95 534.61L1072.58 531.66L1075.21 538.93L1077.84 531.20L1080.47 532.44L1083.10 540.57L1085.73 538.08L1088.36 539.93L1090.99 536.21L1093.62 538.01L1096.26 533.45L1098.89 536.26L1101.52 530.19L1104.15 536.99L1106.78 531.50L1109.41 530.91L1112.04 528.68L1114.67 532.46L1117.30 540.33L1119.93 538.91L1122.56 532.29L1125.19 530.73L1127.82 538.95L1130.45 536.61L1133.09 528.53L1135.72 529.07L1138.35 535.92L1140.98 531.47L1143.61 533.19L1146.24 535.98L1148.87 530.14L1151.50 538.94L1154.13 531.19L1156.76 537.42L1159.39 540.04L1162.02 533.09L1164.65 530.42L1167.28 532.60L1169.92 536.97L1172.55 537.55L1175.18 540.84L1177.81 530.82L1180.44 528.85L1183.07 537.56L1185.70 529.09L1188.33 536.04L1190.96 531.16L1193.59 532.14L1196.22 533.32L1198.85 539.11L1201.48 532.12L1204.11 530.05L1206.74 536.36L1209.38 529.88L1212.01 536.22L1214.64 538.62L1217.27 540.58L1219.90 537.92L1222.53 537.21L1225.16 531.61L1227.79 528.99L1230.42 537.52L1233.05 531.80L1235.68 546.03L1238.31 530.74L1240.94 530.86L1243.57 530.75L1246.21 539.62L1248.84 537.09L1251.47 530.99L1254.10 538.61L1256.73 539.05L1259.36 535.94L1261.99 529.55L1264.62 536.03L1267.25 540.36L1269.88 530.37L1272.51 539.55L1275.14 536.90L1277.77 529.67L1280.40 539.65L1283.04 531.94L1285.67 530.16L1288.30 538.45L1290.93 539.35L1293.56 537.78L1296.19 539.13L1298.82 539.87L1301.45 540.31L1304.08 538.99L1306.71 529.96L1309.34 531.49L1311.97 536.37L1314.60 540.85L1317.23 532.84L1319.87 537.85L1322.50 528.59L1325.13 537.23L1327.76 530.29L1330.39 532.78L1333.02 538.03L1335.65 528.91L1338.28 536.18L1340.91 532.58L1343.54 539.40L1346.17 544.36L1348.80 537.09L1351.43 529.71L1354.06 538.51L1356.69 538.14L1359.33 529.02L1361.96 531.91L1364.59 540.67L1367.22 532.56L1369.85 540.62L1372.48 537.64L1375.11 530.99L1377.74 540.85L1380.37 536.86L1383.00 531.22L1385.63 539.82L1388.26 538.81L1390.89 532.90L1393.52 536.97L1396.16 538.33L1398.79 540.86L1401.42 530.89L1404.05 539.68L1406.68 529.37L1409.31 529.37L1411.94 537.03L1414.57 536.11L1417.20 531.24L1419.83 530.62L1422.46 532.12L1425.09 531.52L1427.72 533.25L1430.35 532.62L1432.99 538.39L1435.62 529.32L1438.25 537.25L1440.88 532.11L1443.51 539.39L1446.14 530.09L1448.77 537.69L1451.40 528.60L1454.03 530.26L1456.66 537.60L1459.29 536.86L1461.92 531.30L1464.55 540.86L1467.18 536.69L1469.82 537.14L1472.45 530.87L1475.08 537.39L1477.71 530.19L1480.34 536.66L1482.97 537.35L1485.60 538.58L1488.23 537.36L1490.86 536.09L1493.49 533.23L1496.12 529.97L1498.75 537.73L1501.38 538.74L1504.01 532.53L1506.64 536.26L1509.28 533.34L1511.91 531.46L1514.54 539.03L1517.17 539.95L1519.80 531.97L1522.43 535.68L1525.06 530.02L1527.69 529.54L1530.32 530.50L1532.95 537.35L1535.58 530.28L1538.21 537.60L1540.84 529.55L1543.47 530.49L1546.11 539.66L1548.74 538.51L1551.37 531.08L1554.00 539.38L1556.63 538.33L1559.26 540.03L1561.89 528.72L1564.52 532.68L1567.15 536.90L1569.78 530.03L1572.41 540.52L1575.04 531.27L1577.67 540.76L1580.30 528.94L1582.94 538.57L1585.57 532.33L1588.20 528.47L1590.83 530.54L1593.46 539.97L1596.09 528.97L1598.72 538.64L1601.35 536.58L1603.98 533.32L1606.61 536.55L1609.24 540.58L1611.87 537.23L1614.50 539.51L1617.13 530.59L1619.76 533.64L1622.40 538.08L1625.03 531.68L1627.66 536.52L1630.29 532.33L1632.92 537.36L1635.55 535.80L1638.18 536.37L1640.81 538.78L1643.44 531.55L1646.07 530.07L1648.70 529.74L1651.33 540.87L1653.96 540.13L1656.59 531.43L1659.23 540.40L1661.86 530.95L1664.49 540.39L1667.12 533.44L1669.75 528.96L1672.38 530.56L1675.01 532.11L1677.64 535.97L1680.27 531.36L1682.90 537.70L1685.53 530.04L1688.16 536.87L1690.79 531.63L1693.42 535.96L1696.06 540.72L1698.69 540.19L1701.32 529.46L1703.95 539.56L1706.58 528.94L1709.21 539.80L1711.84 530.88L1714.47 533.73L1717.10 537.19L1719.73 533.40L1722.36 529.41L1724.99 537.49L1727.62 533.48L1730.25 540.36L1732.88 531.09L1735.52 528.55L1738.15 536.69L1740.78 528.84L1743.41 532.69L1746.04 531.85L1748.67 536.51L1751.30 540.88L1753.93 530.38L1756.56 540.26L1759.19 533.17L1761.82 532.07L1764.45 529.12L1767.08 533.01L1769.71 528.76L1772.35 536.02L1774.98 532.10L1777.61 532.69L1780.24 536.85L1782.87 539.79L1785.50 530.22L1788.13 530.60L1790.76 537.19L1793.39 539.13L1796.02 530.34L1798.65 540.81L1801.28 536.88L1803.91 538.52L1806.54 537.31L1809.18 539.86L1811.81 537.31L1814.44 537.38L1817.07 539.41L1819.70 536.23L1822.33 537.76L1824.96 539.77L1827.59 536.17L1830.22 538.76L1832.85 536.68L1835.48 539.60L1838.11 539.35L1840.74 536.32L1843.37 536.90L1846.01 537.51L1848.64 537.52L1851.27 537.40L1853.90 539.81L1856.53 539.84L1859.16 536.95L1861.79 539.46L1864.42 537.75" stroke="#ff0000" stroke-width="1.8" stroke-linecap="square"/>
<path d="M286.00 691.26L288.63 674.63L291.26 656.61L293.89 638.60L296.52 643.82L299.15 641.88L301.78 638.60L304.41 644.40L307.05 643.61L309.68 637.52L312.31 643.00L314.94 636.60L317.57 644.43L320.20 637.42L322.83 642.87L325.46 641.41L328.09 636.56L330.72 641.69L333.35 644.91L335.98 638.42L338.61 642.52L341.24 641.96L343.88 641.54L346.51 638.60L349.14 608.11L351.77 574.85L354.40 576.52L357.03 584.94L359.66 578.32L362.29 582.88L364.92 587.84L367.55 586.23L370.18 578.92L372.81 577.27L375.44 583.96L378.07 578.13L380.71 578.19L383.34 587.08L385.97 578.09L388.60 584.98L391.23 576.75L393.86 585.63L396.49 577.16L399.12 584.18L401.75 577.47L404.38 585.15L407.01 579.35L409.64 587.80L412.27 575.78L414.90 587.62L417.53 579.84L420.17 576.01L422.80 584.14L425.43 584.53L428.06 580.80L430.69 586.00L433.32 588.01L435.95 580.72L438.58 586.89L441.21 586.11L443.84 578.05L446.47 586.04L449.10 575.83L451.73 579.99L454.36 587.34L457.00 575.84L459.63 586.41L462.26 583.85L464.89 579.49L467.52 577.17L470.15 587.41L472.78 579.57L475.41 587.91L478.04 577.53L480.67 575.75L483.30 578.63L485.93 587.49L488.56 585.79L491.19 578.89L493.83 577.86L496.46 586.48L499.09 586.94L501.72 587.54L504.35 576.66L506.98 583.24L509.61 579.19L512.24 577.19L514.87 586.01L517.50 578.01L520.13 578.76L522.76 584.87L525.39 577.21L528.02 583.20L530.66 577.16L533.29 577.35L535.92 578.91L538.55 585.30L541.18 579.89L543.81 579.04L546.44 584.45L549.07 582.76L551.70 579.36L554.33 585.01L556.96 575.97L559.59 586.42L562.22 578.38L564.85 576.38L567.48 585.15L570.12 587.12L572.75 577.99L575.38 578.75L578.01 577.33L580.64 577.91L583.27 578.99L585.90 579.14L588.53 584.63L591.16 580.12L593.79 585.60L596.42 580.60L599.05 579.33L601.68 577.67L604.31 587.34L606.95 584.42L609.58 577.45L612.21 577.62L614.84 578.66L617.47 579.45L620.10 584.73L622.73 578.73L625.36 579.95L627.99 584.07L630.62 585.49L633.25 576.42L635.88 576.49L638.51 586.61L641.14 580.12L643.78 576.43L646.41 587.38L649.04 566.54L651.67 556.84L654.30 552.47L656.93 556.40L659.56 550.55L662.19 556.48L664.82 552.46L667.45 551.07L670.08 541.18L672.71 551.81L675.34 558.66L677.97 557.97L680.61 557.79L683.24 557.42L685.87 551.49L688.50 552.61L691.13 551.61L693.76 550.67L696.39 550.71L699.02 557.50L701.65 559.14L704.28 556.20L706.91 553.42L709.54 555.86L712.17 552.75L714.80 558.82L717.43 560.14L720.07 559.11L722.70 555.72L725.33 549.56L727.96 556.56L730.59 567.23L733.22 552.44L735.85 556.00L738.48 560.08L741.11 559.19L743.74 557.30L746.37 549.57L749.00 550.77L751.63 556.67L754.26 550.48L756.90 550.36L759.53 557.39L762.16 560.25L764.79 553.01L767.42 551.40L770.05 556.68L772.68 551.04L775.31 558.14L777.94 559.10L780.57 551.95L783.20 559.06L785.83 556.40L788.46 551.12L791.09 557.37L793.73 552.25L796.36 552.37L798.99 557.76L801.62 552.04L804.25 557.11L806.88 552.28L809.51 552.53L812.14 558.69L814.77 551.50L817.40 553.58L820.03 553.45L822.66 559.40L825.29 558.76L827.92 551.86L830.55 559.55L833.19 553.00L835.82 550.92L838.45 557.85L841.08 557.75L843.71 557.43L846.34 552.23L848.97 550.39L851.60 558.07L854.23 557.95L856.86 558.49L859.49 557.26L862.12 553.81L864.75 550.20L867.38 560.15L870.02 556.30L872.65 557.57L875.28 552.71L877.91 555.83L880.54 553.38L883.17 556.34L885.80 550.01L888.43 557.90L891.06 559.99L893.69 552.85L896.32 549.64L898.95 551.44L901.58 556.48L904.21 559.20L906.85 529.26L909.48 558.10L912.11 556.10L914.74 556.46L917.37 559.54L920.00 557.64L922.63 551.60L925.26 557.47L927.89 549.59L930.52 558.24L933.15 559.81L935.78 551.36L938.41 552.17L941.04 553.81L943.67 551.44L946.31 549.26L948.94 557.51L951.57 559.11L954.20 550.27L956.83 549.83L959.46 552.21L962.09 543.81L964.72 553.73L967.35 553.26L969.98 553.29L972.61 551.42L975.24 559.48L977.87 560.20L980.50 552.03L983.14 552.60L985.77 558.89L988.40 559.47L991.03 556.93L993.66 557.63L996.29 553.83L998.92 552.24L1001.55 557.90L1004.18 552.39L1006.81 558.13L1009.44 549.27L1012.07 552.52L1014.70 552.44L1017.33 553.65L1019.97 559.98L1022.60 558.92L1025.23 553.35L1027.86 553.62L1030.49 557.62L1033.12 558.79L1035.75 559.26L1038.38 549.63L1041.01 555.83L1043.64 559.74L1046.27 557.85L1048.90 552.89L1051.53 556.03L1054.16 549.70L1056.80 551.50L1059.43 551.72L1062.06 550.60L1064.69 549.94L1067.32 551.14L1069.95 557.81L1072.58 553.20L1075.21 557.53L1077.84 550.99L1080.47 560.24L1083.10 558.02L1085.73 552.08L1088.36 560.13L1090.99 558.65L1093.62 556.27L1096.26 553.14L1098.89 558.36L1101.52 552.83L1104.15 551.64L1106.78 553.18L1109.41 560.01L1112.04 558.86L1114.67 553.23L1117.30 551.59L1119.93 553.24L1122.56 558.18L1125.19 549.88L1127.82 555.96L1130.45 552.65L1133.09 549.79L1135.72 551.92L1138.35 559.51L1140.98 552.98L1143.61 559.65L1146.24 553.63L1148.87 553.89L1151.50 553.26L1154.13 556.57L1156.76 549.58L1159.39 551.40L1162.02 556.42L1164.65 550.19L1167.28 553.81L1169.92 560.11L1172.55 553.55L1175.18 559.78L1177.81 550.53L1180.44 558.69L1183.07 551.12L1185.70 549.79L1188.33 560.23L1190.96 549.45L1193.59 549.22L1196.22 556.88L1198.85 559.76L1201.48 550.31L1204.11 555.61L1206.74 553.89L1209.38 559.98L1212.01 559.66L1214.64 557.44L1217.27 558.67L1219.90 556.03L1222.53 556.33L1225.16 550.69L1227.79 550.03L1230.42 556.99L1233.05 555.81L1235.68 557.07L1238.31 552.45L1240.94 553.11L1243.57 555.90L1246.21 550.99L1248.84 553.90L1251.47 557.26L1254.10 552.31L1256.73 557.59L1259.36 553.65L1261.99 559.96L1264.62 560.22L1267.25 559.07L1269.88 553.41L1272.51 550.70L1275.14 553.25L1277.77 551.40L1280.40 556.58L1283.04 558.52L1285.67 553.54L1288.30 552.27L1290.93 556.23L1293.56 551.58L1296.19 556.47L1298.82 551.83L1301.45 555.88L1304.08 553.68L1306.71 550.31L1309.34 549.44L1311.97 557.58L1314.60 553.59L1317.23 553.73L1319.87 550.74L1322.50 553.64L1325.13 549.39L1327.76 551.19L1330.39 551.66L1333.02 551.20L1335.65 557.50L1338.28 558.35L1340.91 559.23L1343.54 550.53L1346.17 557.86L1348.80 550.50L1351.43 556.28L1354.06 551.01L1356.69 558.23L1359.33 557.60L1361.96 551.11L1364.59 557.65L1367.22 550.71L1369.85 560.23L1372.48 550.71L1375.11 549.29L1377.74 559.96L1380.37 549.46L1383.00 552.72L1385.63 551.27L1388.26 558.54L1390.89 550.83L1393.52 553.90L1396.16 550.60L1398.79 551.40L1401.42 556.27L1404.05 549.71L1406.68 559.83L1409.31 552.12L1411.94 553.79L1414.57 559.35L1417.20 553.10L1419.83 560.06L1422.46 550.77L1425.09 552.61L1427.72 558.82L1430.35 552.77L1432.99 552.95L1435.62 557.73L1438.25 559.63L1440.88 558.54L1443.51 553.49L1446.14 557.63L1448.77 557.36L1451.40 552.12L1454.03 551.59L1456.66 553.66L1459.29 556.84L1461.92 553.37L1464.55 552.37L1467.18 556.72L1469.82 551.02L1472.45 553.52L1475.08 549.89L1477.71 558.64L1480.34 553.23L1482.97 560.12L1485.60 557.69L1488.23 557.84L1490.86 556.06L1493.49 556.41L1496.12 550.99L1498.75 551.03L1501.38 559.43L1504.01 551.27L1506.64 549.32L1509.28 557.73L1511.91 549.94L1514.54 559.88L1517.17 557.56L1519.80 558.79L1522.43 552.53L1525.06 559.51L1527.69 552.51L1530.32 549.28L1532.95 558.85L1535.58 550.20L1538.21 550.31L1540.84 556.17L1543.47 556.11L1546.11 549.41L1548.74 557.85L1551.37 558.63L1554.00 551.96L1556.63 550.55L1559.26 558.79L1561.89 558.42L1564.52 556.84L1567.15 549.85L1569.78 556.19L1572.41 549.77L1575.04 552.99L1577.67 553.00L1580.30 553.88L1582.94 559.13L1585.57 550.97L1588.20 557.75L1590.83 557.35L1593.46 558.41L1596.09 559.07L1598.72 550.07L1601.35 551.91L1603.98 551.97L1606.61 557.12L1609.24 552.47L1611.87 551.04L1614.50 551.46L1617.13 556.41L1619.76 557.69L1622.40 551.51L1625.03 558.64L1627.66 557.32L1630.29 549.36L1632.92 552.43L1635.55 558.29L1638.18 549.69L1640.81 552.62L1643.44 556.00L1646.07 551.30L1648.70 551.92L1651.33 552.72L1653.96 559.54L1656.59 552.61L1659.23 558.47L1661.86 553.42L1664.49 558.69L1667.12 553.17L1669.75 551.90L1672.38 559.76L1675.01 551.59L1677.64 558.60L1680.27 552.79L1682.90 558.22L1685.53 549.56L1688.16 550.50L1690.79 559.47L1693.42 550.24L1696.06 553.35L1698.69 549.67L1701.32 557.20L1703.95 549.70L1706.58 555.63L1709.21 551.50L1711.84 549.66L1714.47 553.45L1717.10 549.82L1719.73 549.69L1722.36 550.70L1724.99 573.05L1727.62 553.91L1730.25 558.27L1732.88 554.06L1735.52 552.68L1738.15 533.28L1742.09 483.67L1745.51 483.39L1748.14 472.58L1750.51 529.26L1751.30 529.76L1753.93 528.59L1756.56 524.32L1759.19 528.54L1761.82 523.18L1764.45 531.47L1767.08 522.97L1769.71 531.80L1772.35 531.82L1774.98 523.18L1777.61 523.30L1780.24 525.50L1782.87 532.14L1785.50 530.90L1788.13 526.96L1790.76 528.70L1793.39 526.09L1796.02 526.36L1798.65 531.64L1801.28 526.46L1803.91 526.92L1806.54 531.40L1809.18 524.32L1811.81 526.61L1814.44 529.50L1817.07 525.09L1819.70 523.71L1822.33 530.21L1824.96 526.31L1827.59 525.40L1830.22 531.93L1832.85 532.57L1835.48 530.65L1838.11 523.80L1840.74 526.96L1843.37 531.22L1846.01 523.59L1848.64 523.35L1851.27 531.19L1853.90 525.60L1856.53 528.83L1859.16 529.60L1861.79 525.96L1864.42 530.50" stroke="#008000" stroke-width="1.8" stroke-linecap="square"/>
<path d="M286.00 822.91L287.45 560.99L290.21 587.32L293.89 589.12L296.52 589.99L299.15 582.39L301.78 586.68L304.41 586.18L307.05 582.48L309.68 587.78L312.31 588.71L314.94 582.15L317.57 590.11L320.20 589.76L322.83 589.44L325.46 589.70L328.09 579.11L330.72 589.49L333.35 581.34L335.98 587.77L338.61 582.99L341.24 579.39L343.88 579.95L346.51 589.45L349.14 580.03L351.77 586.42L354.40 580.85L357.03 587.92L359.66 587.59L362.29 581.02L364.92 586.74L367.55 581.67L370.18 588.94L372.81 587.55L375.44 590.43L378.07 582.87L380.71 579.17L383.34 582.77L385.97 590.09L388.60 589.75L391.23 579.09L393.86 589.29L396.49 578.47L399.12 579.79L401.75 588.76L404.38 580.48L407.01 589.35L409.64 582.05L412.27 589.11L414.90 582.42L417.53 588.90L420.17 580.74L422.80 587.82L425.43 583.13L428.06 590.78L430.69 582.02L433.32 588.65L435.95 581.13L438.58 589.91L441.21 581.84L443.84 590.63L446.47 581.10L449.10 582.05L451.73 588.15L454.36 589.40L457.00 579.99L459.63 582.25L462.26 587.37L464.89 582.09L467.52 587.35L470.15 581.51L472.78 605.34L475.41 583.60L478.04 582.61L480.67 588.43L483.30 582.08L485.93 586.21L488.56 586.08L491.19 599.80L493.83 581.56L496.46 586.17L499.09 581.27L501.72 578.37L504.35 588.32L506.98 579.36L509.61 590.22L512.24 582.95L514.87 586.80L517.50 586.28L520.13 581.65L522.76 589.74L525.39 579.81L528.02 578.66L530.66 590.37L533.29 580.58L535.92 579.17L538.55 583.01L541.18 588.32L543.81 588.32L546.44 578.52L549.07 585.95L551.70 583.46L554.33 583.05L556.96 579.02L559.59 579.33L562.22 588.79L564.85 589.28L567.48 579.58L570.12 587.12L572.75 587.99L575.38 579.46L578.01 585.51L580.64 582.24L583.27 590.46L585.90 579.11L588.53 581.41L591.16 579.58L593.79 586.87L596.42 578.84L599.05 586.52L601.68 581.09L604.31 588.52L606.95 579.26L609.58 586.03L612.21 581.99L614.84 580.98L617.47 589.91L620.10 579.67L622.73 581.35L625.36 583.50L627.99 582.86L630.62 582.80L633.25 588.14L635.88 586.85L638.51 580.39L641.14 588.30L642.99 588.30L642.99 1169.36L679.29 1169.36L679.29 590.79L683.24 585.26L685.87 585.62L688.50 588.07L691.13 589.31L693.76 590.35L696.39 583.73L699.02 584.05L701.65 584.49L704.28 584.54L706.91 588.75L709.54 584.35L712.17 588.09L714.80 589.92L717.43 584.19L720.07 585.49L722.70 585.10L725.33 589.27L727.96 589.37L730.59 589.02L733.22 590.92L735.85 589.14L738.48 585.16L741.11 590.59L743.74 591.16L746.37 585.39L749.00 590.38L750.58 581.78L752.95 556.84L754.26 557.25L756.90 561.04L759.53 554.06L762.16 563.62L764.79 557.30L767.42 557.79L770.05 560.21L772.68 556.53L775.31 560.34L777.94 555.21L780.57 560.64L783.20 554.42L785.83 555.16L788.46 554.79L791.09 557.51L793.73 562.30L796.36 555.96L798.99 557.43L801.62 556.36L804.25 560.70L806.88 555.71L809.51 563.51L812.14 555.13L814.77 562.43L817.40 554.53L820.03 557.09L822.66 557.24L825.29 560.10L827.92 557.72L830.55 555.73L833.19 562.67L835.82 556.76L838.45 559.67L841.08 560.04L843.71 554.78L846.34 556.27L848.97 560.25L851.60 555.96L854.23 560.30L856.86 559.75L859.49 554.98L862.12 557.71L864.75 555.78L867.38 554.17L870.02 555.63L872.65 556.08L875.28 563.13L877.91 561.26L880.54 554.82L883.17 561.48L885.80 555.81L888.43 563.20L891.06 555.80L893.69 556.30L896.32 562.85L898.95 562.82L901.58 562.03L904.21 557.37L906.85 561.51L909.48 554.35L912.11 561.15L914.74 561.61L917.37 560.34L920.00 561.49L922.63 557.93L925.26 563.07L927.89 562.06L930.52 558.00L933.15 556.27L935.78 555.57L938.41 563.37L941.04 554.10L943.67 563.77L946.31 556.27L948.94 555.99L951.57 559.92L954.20 562.37L956.83 571.39L959.46 563.63L962.09 561.64L964.72 554.65L967.35 562.76L969.98 554.08L972.61 563.03L975.24 559.74L977.87 556.92L980.50 554.09L983.14 556.07L985.77 557.11L988.40 560.16L991.03 559.94L993.66 557.41L996.29 559.90L998.92 555.52L1001.55 554.40L1004.18 553.94L1006.81 562.33L1009.44 560.41L1012.07 557.15L1014.70 563.00L1017.33 562.09L1019.97 555.11L1022.60 560.38L1025.23 560.71L1027.86 556.25L1030.49 557.71L1033.12 560.66L1035.75 563.12L1038.38 555.11L1041.01 560.59L1043.64 555.89L1046.27 555.61L1048.90 562.98L1051.53 556.37L1054.16 561.53L1056.80 560.81L1059.43 554.44L1062.06 559.96L1064.69 560.13L1067.32 555.54L1069.95 554.35L1072.58 545.75L1075.21 561.65L1077.84 561.64L1080.47 563.73L1083.10 555.04L1085.73 563.43L1088.36 563.30L1090.99 562.19L1093.62 560.32L1096.26 557.85L1098.89 562.58L1101.52 554.72L1104.15 560.50L1106.78 555.72L1109.41 559.86L1112.04 554.03L1114.67 562.56L1117.30 557.87L1119.93 557.28L1122.56 562.28L1125.19 559.71L1127.82 559.75L1130.45 556.77L1133.09 555.02L1135.72 556.34L1138.35 557.60L1140.98 557.95L1143.61 562.85L1146.24 562.52L1148.87 554.49L1151.50 560.54L1154.13 553.97L1156.76 560.60L1159.39 554.38L1162.02 554.60L1164.65 558.12L1167.28 557.36L1169.92 554.05L1172.55 562.76L1175.18 557.72L1177.81 556.29L1180.44 562.04L1183.07 556.37L1185.70 554.50L1188.33 563.45L1190.96 557.29L1193.59 560.38L1196.22 555.39L1198.85 560.47L1201.48 557.64L1204.11 554.08L1206.74 561.45L1209.38 556.61L1212.01 560.42L1214.64 555.24L1217.27 559.95L1219.90 554.60L1222.53 563.18L1225.16 562.32L1227.79 555.71L1230.42 561.85L1233.05 560.12L1235.68 554.34L1238.31 554.72L1240.94 557.73L1243.57 557.64L1246.21 556.49L1248.84 561.87L1251.47 555.77L1254.10 556.26L1256.73 561.22L1259.36 556.96L1261.99 554.07L1264.62 560.88L1267.25 554.50L1269.88 560.44L1272.51 557.80L1275.14 560.65L1277.77 563.60L1280.40 556.92L1283.04 559.79L1285.67 555.73L1288.30 561.15L1290.93 558.08L1293.56 560.42L1296.19 557.87L1298.82 558.10L1301.45 560.39L1304.08 554.95L1306.71 554.07L1309.34 561.96L1311.97 557.83L1314.60 562.26L1317.23 554.84L1319.87 560.91L1322.50 562.08L1325.13 554.33L1327.76 562.22L1330.39 554.52L1333.02 556.29L1335.65 562.94L1338.28 562.22L1340.91 561.90L1343.54 556.82L1346.17 560.31L1348.80 562.01L1351.43 557.28L1354.06 563.08L1356.69 562.88L1359.33 556.36L1361.96 556.52L1364.59 557.95L1367.22 561.81L1369.85 563.74L1372.48 561.07L1375.11 563.55L1377.74 556.37L1380.37 560.96L1383.00 554.84L1385.63 562.01L1388.26 556.21L1390.89 558.15L1393.52 563.48L1396.16 561.81L1398.79 556.90L1401.42 555.71L1404.05 562.59L1406.68 556.52L1409.31 554.30L1411.94 562.98L1414.57 569.31L1417.20 557.72L1419.83 556.72L1422.46 559.84L1425.09 560.84L1427.72 562.30L1430.35 557.28L1432.99 561.05L1435.62 557.42L1438.25 563.47L1440.88 554.27L1443.51 554.11L1446.14 560.75L1448.77 555.53L1451.40 555.29L1454.03 557.75L1456.66 555.18L1459.29 557.10L1461.92 558.06L1464.55 561.05L1467.18 557.43L1469.82 561.14L1472.45 556.45L1475.08 560.38L1477.71 553.96L1480.34 557.53L1482.97 557.55L1485.60 563.89L1488.23 557.73L1490.86 562.15L1493.49 554.15L1496.12 561.21L1498.75 555.70L1501.38 556.03L1504.01 560.73L1506.64 563.87L1509.28 555.15L1511.91 560.33L1514.54 555.55L1517.17 555.24L1519.80 554.52L1522.43 561.48L1525.06 554.64L1527.69 555.95L1530.32 554.30L1532.95 560.60L1535.58 555.14L1538.21 561.54L1540.84 560.91L1543.47 559.92L1546.11 555.46L1548.74 556.00L1551.37 555.35L1554.00 556.25L1556.63 560.21L1559.26 562.95L1561.89 562.86L1564.52 557.42L1567.15 561.65L1569.78 563.37L1572.41 556.58L1575.04 554.42L1577.67 562.18L1580.30 563.57L1582.94 554.04L1585.57 562.00L1588.20 554.02L1590.83 559.85L1593.46 561.60L1596.09 556.36L1598.72 559.79L1601.35 557.25L1603.98 563.89L1606.61 560.97L1609.24 557.65L1611.87 557.41L1614.50 563.54L1617.13 554.39L1619.76 560.41L1622.40 555.23L1625.03 561.79L1627.66 556.05L1630.29 561.56L1632.92 557.75L1635.55 563.20L1638.18 555.31L1640.81 563.41L1643.44 554.75L1646.07 563.51L1648.70 559.72L1651.33 557.11L1653.96 563.33L1656.59 555.30L1659.23 555.19L1661.86 555.42L1664.49 563.79L1667.12 555.82L1669.75 561.97L1672.38 554.10L1675.01 555.20L1677.64 563.70L1680.27 559.87L1682.90 560.12L1685.53 557.09L1688.16 561.72L1690.79 560.30L1693.42 561.80L1696.06 553.94L1698.69 556.70L1701.32 556.25L1703.95 554.23L1706.58 556.64L1709.21 561.64L1711.84 557.01L1714.47 559.73L1717.10 556.12L1719.73 562.66L1722.36 556.98L1724.99 556.96L1727.62 562.30L1730.25 555.67L1732.88 554.05L1735.52 554.04L1738.15 556.64L1740.78 557.63L1743.41 572.08L1746.04 555.61L1748.67 560.55L1751.30 560.02L1753.93 557.00L1756.56 557.55L1759.19 562.69L1761.82 554.66L1764.45 559.98L1767.08 555.81L1769.71 561.93L1772.35 554.45L1774.98 560.29L1777.61 554.63L1780.24 557.69L1782.87 563.86L1785.50 560.83L1788.13 557.97L1790.76 560.39L1793.39 560.32L1796.02 556.77L1798.65 563.69L1801.28 554.03L1803.91 557.21L1806.54 563.13L1809.18 560.27L1811.81 560.93L1814.44 554.38L1817.07 557.43L1819.70 560.79L1822.33 563.76L1824.96 562.90L1827.59 561.68L1830.22 554.78L1832.85 554.42L1835.48 556.19L1838.11 560.21L1840.74 556.83L1843.37 561.81L1846.01 562.55L1848.64 555.41L1851.27 554.29L1853.90 554.57L1856.53 563.27L1859.16 554.71L1861.79 562.25L1864.42 557.48" stroke="#0000ff" stroke-width="1.8" stroke-linecap="square"/>
<path d="M286.00 603.95L288.63 609.50L291.26 615.04L293.89 617.81L296.52 618.91L299.15 619.58L301.78 615.20L304.41 614.07L307.05 618.86L309.68 613.73L312.31 617.56L314.94 617.94L317.57 613.65L320.20 615.50L322.83 618.80L325.46 614.08L328.09 617.88L330.72 615.35L333.35 614.79L335.98 614.69L338.61 613.46L341.24 615.61L343.88 618.72L346.51 615.66L349.14 614.47L351.77 618.20L354.40 613.67L357.03 617.21L359.66 617.18L362.29 615.85L364.92 615.60L367.55 617.19L370.18 613.99L372.81 618.21L375.44 614.69L378.07 617.19L380.71 615.26L383.34 613.27L385.97 617.33L388.60 618.54L391.23 613.93L393.86 614.73L396.49 618.53L399.12 617.67L401.75 615.39L404.38 614.60L407.01 618.02L409.64 615.04L412.27 614.27L414.90 619.57L417.53 615.22L420.17 617.34L422.80 615.28L425.43 615.18L428.06 618.63L430.69 617.75L433.32 617.97L435.95 614.24L438.58 613.79L441.21 619.30L443.84 614.84L446.47 614.38L449.10 615.04L451.73 614.19L454.36 619.56L457.00 614.97L459.63 617.22L462.26 613.97L464.89 617.66L467.52 614.39L470.15 619.14L472.78 614.88L475.41 617.29L478.04 615.51L480.67 615.51L483.30 615.30L485.93 614.07L488.56 619.56L491.19 618.50L493.83 614.78L496.46 618.25L499.09 619.37L501.72 614.00L504.35 614.39L506.98 619.38L509.61 613.15L512.24 613.58L514.87 615.73L517.50 615.06L520.13 618.00L522.76 615.91L525.39 619.14L528.02 614.43L530.66 619.67L533.29 614.00L535.92 615.93L538.55 615.26L541.18 613.30L543.81 613.51L546.44 618.18L549.07 613.28L551.70 617.31L554.33 619.20L556.96 619.66L559.59 613.57L562.22 619.47L564.85 614.69L567.48 619.17L570.12 614.00L572.75 614.74L575.38 610.68L578.01 611.73L580.64 608.55L583.27 611.13L585.90 609.17L588.53 609.19L591.16 612.65L593.79 609.71L596.42 608.16L599.05 615.01L601.68 618.99L604.31 620.17L606.95 618.87L609.58 615.26L612.21 620.11L614.84 615.07L617.47 619.80L620.10 619.25L622.73 615.42L625.36 620.86L627.99 614.63L630.62 618.79L633.25 615.28L635.88 620.20L638.51 614.47L641.14 620.68L643.78 615.80L646.41 618.72L649.04 614.63L651.67 601.18L654.30 580.39L656.93 588.12L659.56 582.99L662.19 587.93L664.82 588.70L667.45 582.19L670.08 583.64L672.71 587.75L675.34 587.25L677.97 582.29L680.61 589.81L683.24 583.81L685.87 587.03L688.50 588.26L691.13 589.48L693.76 582.17L696.39 584.36L699.02 587.38L701.65 582.44L704.28 588.61L706.91 582.02L709.54 582.14L712.17 589.41L714.80 583.18L717.43 590.00L720.07 583.49L722.70 588.06L725.33 582.76L727.96 583.91L730.59 584.00L733.22 588.32L735.85 589.54L738.48 586.75L741.11 585.22L743.74 588.02L745.85 585.94L747.95 567.92L749.79 560.99L752.69 559.61L755.84 467.73L758.74 530.64L760.84 506.95L764.00 556.84L767.42 558.34L770.05 562.72L772.68 563.19L775.31 558.08L777.94 557.21L780.57 562.87L783.20 555.34L785.83 555.36L788.46 563.29L791.09 556.25L793.73 560.82L796.36 558.11L798.99 558.29L801.62 562.19L804.25 557.95L806.88 560.78L809.51 556.09L812.14 557.61L814.77 556.73L817.40 563.36L820.03 555.85L822.66 558.70L825.29 557.22L827.92 563.30L830.55 557.85L833.19 563.08L835.82 556.19L838.45 555.24L841.08 555.40L843.71 563.17L846.34 558.27L848.97 558.61L851.60 557.56L854.23 560.98L856.86 556.81L859.49 558.66L862.12 560.83L864.75 561.51L867.38 555.40L870.02 561.31L872.65 557.87L875.28 557.69L877.91 561.97L880.54 562.57L883.17 555.35L885.80 555.39L888.43 557.10L891.06 562.99L893.69 556.06L896.32 561.25L898.95 556.13L901.58 561.70L904.21 562.89L906.85 562.30L909.48 555.42L912.11 561.41L914.74 562.94L917.37 555.64L920.00 560.09L922.63 555.42L925.26 561.10L927.89 557.98L930.52 558.33L933.15 563.48L935.78 557.92L938.41 563.07L941.04 556.69L943.67 572.08L946.31 558.65L948.94 560.03L951.57 560.04L954.20 557.19L956.83 558.66L959.46 558.34L962.09 560.10L964.72 562.89L967.35 561.09L969.98 555.31L972.61 555.28L975.24 563.06L977.87 562.73L980.50 555.94L983.14 560.92L985.77 558.56L988.40 557.52L991.03 562.76L993.66 557.59L996.29 555.39L998.92 561.89L1001.55 557.45L1004.18 556.90L1006.81 558.61L1009.44 560.17L1012.07 556.04L1014.70 556.02L1017.33 557.36L1019.97 560.42L1022.60 558.28L1025.23 556.80L1027.86 562.96L1030.49 555.63L1033.12 556.49L1035.75 562.19L1038.38 563.47L1041.01 555.31L1043.64 563.23L1046.27 562.20L1048.90 555.57L1051.53 561.13L1054.16 560.26L1056.80 560.75L1059.43 560.72L1062.06 556.99L1064.69 562.61L1067.32 557.68L1069.95 561.90L1072.58 556.72L1075.21 556.28L1077.84 561.65L1080.47 557.04L1083.10 558.70L1085.73 555.45L1088.36 561.08L1090.99 560.50L1093.62 556.53L1096.26 560.55L1098.89 556.97L1101.52 558.00L1104.15 556.83L1106.78 561.41L1109.41 560.32L1112.04 557.02L1114.67 561.42L1117.30 557.28L1119.93 561.96L1122.56 563.04L1125.19 560.84L1127.82 561.22L1130.45 561.62L1133.09 561.37L1135.72 561.60L1138.35 560.59L1140.98 560.70L1143.61 557.37L1146.24 556.67L1148.87 563.25L1151.50 557.02L1154.13 560.34L1156.76 555.37L1159.39 562.50L1162.02 555.75L1164.65 558.27L1167.28 558.21L1169.92 560.79L1172.55 561.99L1175.18 560.72L1177.81 557.55L1180.44 556.70L1183.07 557.12L1185.70 560.30L1188.33 556.10L1190.96 561.65L1193.59 558.24L1196.22 561.69L1198.85 562.71L1201.48 557.67L1204.11 561.20L1206.74 555.28L1209.38 560.63L1212.01 556.71L1214.64 560.03L1217.27 558.65L1219.90 556.34L1222.53 563.48L1225.16 555.37L1227.79 560.23L1230.42 556.83L1233.05 558.26L1235.68 557.68L1238.31 555.89L1240.94 558.55L1243.57 560.07L1246.21 558.59L1248.84 560.16L1251.47 561.60L1254.10 558.18L1256.73 560.33L1259.36 563.22L1261.99 560.22L1264.62 562.97L1267.25 555.95L1269.88 561.79L1272.51 561.47L1275.14 555.28L1277.77 557.70L1280.40 558.12L1283.04 556.19L1285.67 561.50L1288.30 561.41L1290.93 558.17L1293.56 562.71L1296.19 555.30L1298.82 560.20L1301.45 563.45L1304.08 556.72L1306.71 560.43L1309.34 555.58L1311.97 560.67L1314.60 557.70L1317.23 557.97L1319.87 560.16L1322.50 560.32L1325.13 563.28L1327.76 557.05L1330.39 556.98L1333.02 563.19L1335.65 560.79L1338.28 560.09L1340.91 561.17L1343.54 560.05L1346.17 557.28L1348.80 562.69L1351.43 558.50L1354.06 560.31L1356.69 561.78L1359.33 557.57L1361.96 561.55L1364.59 556.49L1367.22 562.38L1369.85 562.62L1372.48 557.01L1375.11 558.46L1377.74 558.32L1380.37 559.98L1383.00 560.05L1385.63 556.62L1388.26 563.47L1390.89 558.69L1393.52 560.51L1396.16 560.76L1398.79 561.52L1401.42 556.81L1404.05 562.24L1406.68 555.84L1409.31 558.36L1411.94 557.57L1414.57 556.68L1417.20 561.79L1419.83 556.90L1422.46 562.02L1425.09 555.89L1427.72 561.56L1430.35 556.07L1432.99 563.04L1435.62 556.69L1438.25 561.91L1440.88 558.15L1443.51 561.01L1446.14 556.96L1448.77 556.41L1451.40 562.30L1454.03 558.06L1456.66 563.12L1459.29 561.57L1461.92 561.78L1464.55 556.21L1467.18 556.30L1469.82 561.64L1472.45 557.84L1475.08 563.36L1477.71 561.67L1480.34 562.41L1482.97 557.82L1485.60 561.86L1488.23 557.91L1490.86 562.25L1493.49 558.25L1496.12 555.23L1498.75 555.80L1501.38 557.33L1504.01 561.58L1506.64 560.35L1509.28 560.41L1511.91 556.69L1514.54 555.60L1517.17 556.44L1519.80 557.62L1522.43 562.04L1525.06 557.10L1527.69 555.25L1530.32 563.21L1532.95 556.88L1535.58 556.31L1538.21 563.11L1540.84 555.80L1543.47 555.73L1546.11 561.33L1548.74 557.49L1551.37 560.52L1554.00 555.76L1556.63 557.65L1559.26 560.35L1561.89 560.87L1564.52 558.02L1567.15 558.41L1569.78 561.51L1572.41 557.97L1575.04 555.32L1577.67 560.21L1580.30 557.51L1582.94 558.59L1585.57 561.84L1588.20 557.96L1590.83 557.31L1593.46 557.94L1596.09 560.40L1598.72 555.33L1601.35 556.07L1603.98 562.33L1606.61 573.47L1609.24 560.90L1611.87 556.93L1614.50 561.20L1617.13 562.78L1619.76 556.71L1622.40 562.17L1625.03 560.59L1627.66 562.11L1630.29 560.90L1632.92 555.96L1635.55 557.89L1638.18 560.57L1640.81 555.24L1643.44 561.22L1646.07 563.44L1648.70 556.76L1651.33 562.44L1653.96 563.19L1656.59 557.08L1659.23 556.32L1661.86 558.34L1664.49 555.88L1667.12 559.99L1669.75 555.27L1672.38 557.51L1675.01 558.41L1677.64 556.75L1680.27 557.67L1682.90 561.20L1685.53 557.07L1688.16 561.53L1690.79 556.50L1693.42 557.56L1696.06 563.37L1698.69 562.39L1701.32 555.29L1703.95 562.14L1706.58 561.22L1709.21 556.37L1711.84 556.23L1714.47 560.94L1717.10 562.50L1719.73 557.80L1722.36 561.78L1724.99 563.02L1727.62 561.45L1730.25 563.07L1732.88 556.81L1735.52 560.64L1738.15 557.92L1740.78 555.25L1743.41 560.54L1746.04 555.46L1748.67 562.87L1751.30 561.17L1753.93 560.32L1756.56 556.33L1759.19 560.77L1761.82 555.90L1764.45 561.90L1767.08 560.28L1769.71 558.57L1772.35 560.39L1774.98 555.45L1777.61 561.67L1780.24 558.67L1782.87 556.93L1785.50 556.48L1788.13 562.67L1790.76 557.97L1793.39 555.20L1796.02 561.35L1798.65 561.98L1801.28 560.12L1803.91 556.32L1806.54 556.36L1809.18 555.87L1811.81 561.03L1814.44 558.27L1817.07 557.34L1819.70 558.61L1822.33 563.40L1824.96 556.29L1827.59 555.87L1830.22 561.53L1832.85 561.83L1835.48 555.36L1838.11 562.41L1840.74 556.50L1843.37 555.57L1846.01 556.93L1848.64 562.38L1851.27 563.22L1853.90 558.63L1856.53 556.44L1859.16 561.02L1861.79 557.60L1864.42 562.52" stroke="#00bfbf" stroke-width="1.8" stroke-linecap="square"/>
<path d="M286.00 519.87L288.63 519.15L291.26 519.85L293.89 516.56L296.52 514.99L299.15 523.35L301.78 523.07L304.41 518.80L307.05 515.61L309.68 518.83L312.31 517.40L314.94 523.93L317.57 519.54L320.20 523.46L322.83 515.33L325.46 517.93L328.09 515.01L330.72 526.35L333.35 519.24L335.98 526.32L338.61 525.24L341.24 517.48L343.88 519.44L346.51 521.91L349.14 515.77L351.77 523.66L354.40 519.05L357.03 518.18L359.66 523.22L362.29 523.25L364.92 523.34L367.55 519.57L370.18 515.99L372.81 522.25L375.44 518.07L378.07 515.34L380.71 518.51L383.34 526.10L385.97 522.46L388.60 517.55L391.23 519.72L393.86 525.85L396.49 517.65L399.12 517.00L401.75 518.67L404.38 521.72L407.01 516.72L409.64 523.40L412.27 525.17L414.90 518.39L417.53 515.97L420.17 515.52L422.80 524.99L425.43 518.01L428.06 522.39L430.69 515.05L433.32 526.20L435.95 523.24L438.58 516.94L441.21 518.25L443.84 522.53L446.47 525.28L449.10 515.80L451.73 523.34L454.36 522.32L457.00 518.23L459.63 517.22L462.26 526.16L464.89 516.03L467.52 525.55L470.15 516.69L472.78 516.69L475.41 524.40L478.04 523.50L480.67 517.18L483.30 522.25L485.93 517.62L488.56 525.18L491.19 523.35L493.83 526.56L496.46 523.70L499.09 519.29L501.72 526.62L504.35 515.40L506.98 516.05L509.61 524.88L512.24 516.58L514.87 516.36L517.50 526.06L520.13 519.16L522.76 519.66L525.39 523.76L528.02 523.52L530.66 525.79L533.29 524.13L535.92 526.63L538.55 524.96L541.18 523.30L543.81 525.79L546.44 524.13L549.07 526.63L551.70 524.96L554.33 523.30L556.96 517.70L559.59 525.58L562.22 515.95L564.85 524.82L567.48 522.50L570.12 523.91L572.75 515.12L575.38 524.25L578.01 518.84L580.64 517.43L583.27 516.49L585.90 518.33L588.53 517.71L591.16 525.97L593.79 522.27L596.42 525.08L599.05 517.09L601.68 519.18L604.31 518.74L606.95 526.38L609.58 524.92L612.21 523.63L614.84 516.89L617.47 516.47L620.10 524.78L622.73 515.92L625.36 516.10L627.99 523.56L630.62 523.55L633.25 522.16L635.88 518.82L638.51 518.81L641.14 519.57L643.78 516.46L646.41 522.86L649.04 517.49L651.67 522.84L654.30 526.31L656.93 517.36L659.56 515.24L662.19 524.31L664.82 525.58L667.45 524.76L670.08 521.89L672.71 522.78L675.34 517.98L677.97 524.60L680.61 518.37L683.24 524.92L685.87 523.56L688.50 515.71L691.13 515.77L693.76 517.87L696.39 526.23L699.02 519.33L701.65 519.71L704.28 524.66L706.91 523.46L709.54 518.23L712.17 519.48L714.80 523.40L717.43 526.05L720.07 521.92L722.70 519.21L725.33 525.60L727.96 516.52L730.59 517.43L733.22 522.86L735.85 526.53L738.48 526.25L741.11 524.92L743.74 519.34L746.37 525.10L749.00 524.07L751.63 527.31L754.26 527.17L756.90 524.97L759.53 527.37L762.16 524.71L764.79 524.78L767.42 524.43L770.05 527.35L772.68 527.06L775.31 526.88L777.94 523.99L780.57 525.23L783.20 526.21L785.83 524.50L788.46 526.13L791.09 524.32L793.73 526.92L796.36 527.20L798.99 527.27L801.62 525.26L804.25 526.19L806.88 526.49L809.51 524.27L812.14 527.45L814.77 526.84L817.40 525.02L820.03 524.71L822.66 527.27L825.29 527.21L827.92 525.28L830.55 527.31L833.19 525.20L835.82 527.46L838.45 525.27L841.08 525.99L843.71 526.98L846.34 524.27L848.97 527.15L851.60 527.08L854.23 523.93L856.86 524.65L859.49 526.72L862.12 526.63L864.75 523.93L867.38 524.79L870.02 524.18L872.65 526.68L875.28 524.92L877.91 527.21L880.54 526.30L883.17 525.16L885.80 526.76L888.43 524.73L891.06 526.40L893.69 526.26L896.32 524.38L898.95 524.77L901.58 525.00L904.21 527.41L906.85 532.31L909.48 526.38L912.11 524.01L914.74 524.93L917.37 527.08L920.00 527.35L922.63 524.36L925.26 524.04L927.89 524.21L930.52 525.26L933.15 524.46L935.78 525.16L938.41 527.28L941.04 526.86L943.67 525.96L946.31 524.99L948.94 524.29L951.57 527.33L954.20 525.16L956.83 524.25L959.46 524.19L962.09 527.30L964.72 525.37L967.35 527.38L969.98 524.23L972.61 526.13L975.24 524.28L977.87 527.27L980.50 524.50L983.14 525.02L985.77 526.81L988.40 524.39L991.03 524.90L993.66 527.27L996.29 524.08L998.92 527.15L1001.55 523.92L1004.18 524.47L1006.81 526.82L1009.44 524.30L1012.07 526.28L1014.70 525.00L1017.33 526.35L1019.97 524.07L1022.60 524.83L1025.23 536.60L1027.86 524.38L1030.49 517.50L1033.12 518.96L1035.75 523.34L1038.38 518.68L1041.01 522.04L1043.64 517.67L1046.27 519.23L1048.90 517.65L1051.53 519.25L1054.16 525.55L1056.80 525.69L1059.43 523.85L1062.06 518.66L1064.69 516.65L1067.32 522.62L1069.95 523.29L1072.58 515.81L1075.21 516.61L1077.84 516.86L1080.47 518.00L1083.10 526.28L1085.73 516.11L1088.36 525.39L1090.99 525.56L1093.62 515.62L1096.26 522.99L1098.89 525.85L1101.52 515.72L1104.15 524.78L1106.78 522.03L1109.41 519.30L1112.04 526.16L1114.67 518.36L1117.30 519.83L1119.93 525.80L1122.56 525.75L1125.19 509.72L1127.82 517.66L1130.45 525.04L1133.09 523.05L1135.72 523.16L1138.35 522.06L1140.98 516.96L1143.61 516.79L1146.24 526.29L1148.87 526.15L1151.50 521.71L1154.13 519.01L1156.76 524.05L1159.39 524.86L1162.02 523.42L1164.65 515.97L1167.28 517.43L1169.92 524.84L1172.55 517.96L1175.18 525.26L1177.81 522.17L1180.44 517.40L1183.07 522.01L1185.70 517.77L1188.33 515.09L1190.96 524.49L1193.59 519.28L1196.22 523.78L1198.85 523.22L1201.48 525.55L1204.11 515.59L1206.74 521.76L1209.38 516.86L1212.01 519.86L1214.64 525.06L1217.27 524.11L1219.90 522.55L1222.53 517.63L1225.16 519.36L1227.79 525.08L1230.42 515.94L1233.05 525.79L1235.68 521.93L1238.31 517.83L1240.94 525.33L1243.57 519.29L1246.21 525.06L1248.84 517.33L1251.47 523.05L1254.10 517.74L1256.73 521.81L1259.36 526.48L1261.99 515.52L1264.62 524.33L1267.25 519.54L1269.88 523.79L1272.51 517.24L1275.14 524.23L1277.77 516.46L1280.40 522.60L1283.04 517.44L1285.67 522.81L1288.30 517.17L1290.93 515.66L1293.56 518.16L1296.19 523.29L1298.82 516.03L1301.45 515.24L1304.08 516.06L1306.71 522.80L1309.34 517.35L1311.97 524.14L1314.60 515.08L1317.23 523.31L1319.87 523.61L1322.50 522.19L1325.13 519.71L1327.76 525.61L1330.39 516.73L1333.02 517.91L1335.65 525.19L1338.28 526.32L1340.91 526.01L1343.54 516.20L1346.17 517.71L1348.80 519.29L1351.43 516.46L1354.06 522.31L1356.69 522.11L1359.33 515.43L1361.96 518.01L1364.59 523.05L1367.22 524.45L1369.85 522.83L1372.48 522.97L1375.11 526.55L1377.74 521.92L1380.37 516.39L1383.00 523.01L1385.63 518.16L1388.26 517.26L1390.89 518.59L1393.52 515.12L1396.16 523.58L1398.79 519.56L1401.42 525.55L1404.05 518.67L1406.68 519.91L1409.31 522.57L1411.94 519.26L1414.57 518.58L1417.20 519.26L1419.83 519.37L1422.46 519.18L1425.09 524.67L1427.72 517.26L1430.35 517.86L1432.99 517.27L1435.62 525.47L1438.25 522.40L1440.88 517.04L1443.51 517.69L1446.14 524.11L1448.77 517.31L1451.40 517.78L1454.03 515.33L1456.66 524.15L1459.29 519.22L1461.92 521.92L1464.55 525.17L1467.18 525.41L1469.82 523.29L1472.45 522.79L1475.08 526.24L1477.71 525.63L1480.34 515.93L1482.97 522.77L1485.60 515.94L1488.23 517.76L1490.86 522.38L1493.49 524.92L1496.12 515.38L1498.75 521.87L1501.38 523.35L1504.01 515.50L1506.64 518.61L1509.28 518.63L1511.91 522.04L1514.54 517.09L1517.17 525.84L1519.80 519.57L1522.43 522.14L1525.06 515.35L1527.69 522.24L1530.32 519.34L1532.95 524.99L1535.58 517.23L1538.21 522.48L1540.84 516.83L1543.47 515.18L1546.11 522.58L1548.74 518.06L1551.37 516.60L1554.00 524.06L1556.63 525.18L1559.26 524.18L1561.89 526.45L1564.52 522.46L1567.15 524.40L1569.78 526.12L1572.41 525.62L1575.04 526.62L1577.67 518.64L1580.30 524.66L1582.94 524.73L1585.57 516.25L1588.20 522.84L1590.83 524.97L1593.46 516.01L1596.09 523.96L1598.72 516.83L1601.35 524.68L1603.98 525.16L1606.61 522.17L1609.24 526.17L1611.87 516.58L1614.50 525.13L1617.13 517.35L1619.76 517.34L1622.40 519.03L1625.03 524.85L1627.66 522.65L1630.29 517.36L1632.92 522.58L1635.55 524.64L1638.18 515.05L1640.81 518.34L1643.44 523.42L1646.07 519.20L1648.70 522.02L1651.33 523.46L1653.96 518.02L1656.59 515.37L1659.23 525.07L1661.86 525.91L1664.49 515.91L1667.12 525.25L1669.75 516.34L1672.38 526.12L1675.01 518.33L1677.64 524.11L1680.27 519.14L1682.90 521.85L1685.53 525.86L1688.16 523.88L1690.79 517.02L1693.42 521.73L1696.06 516.02L1698.69 523.05L1701.32 515.90L1703.95 523.28L1706.58 519.16L1709.21 515.27L1711.84 517.14L1714.47 524.77L1717.10 518.66L1719.73 515.60L1722.36 518.26L1724.99 515.50L1727.62 518.44L1730.25 526.07L1732.88 519.51L1735.52 525.83L1738.15 526.16L1740.78 525.25L1743.41 525.64L1746.04 515.12L1748.67 521.89L1751.30 524.30L1753.93 523.97L1756.56 519.19L1759.19 522.52L1761.82 519.42L1764.45 515.55L1767.08 525.72L1769.71 517.66L1772.35 526.59L1774.98 522.40L1777.61 518.24L1780.24 522.07L1782.87 523.93L1785.50 518.86L1788.13 526.61L1790.76 517.94L1793.39 519.88L1796.02 519.70L1798.65 524.92L1801.28 524.79L1803.91 515.06L1806.54 519.62L1809.18 522.27L1811.81 519.17L1814.44 521.94L1817.07 518.89L1819.70 526.15L1822.33 526.01L1824.96 519.09L1827.59 524.92L1830.22 519.36L1832.85 523.52L1835.48 517.86L1838.11 516.65L1840.74 523.66L1843.37 526.48L1846.01 518.70L1848.64 523.70L1851.27 522.18L1853.90 516.24L1856.53 525.13L1859.16 518.58L1861.79 523.34L1864.42 519.17" stroke="#bf00bf" stroke-width="1.8" stroke-linecap="square"/>
</g>
<path d="M259.5 129.54V961.96M1864.25 129.54V961.96M259.04 130.0H1864.71M259.04 961.5H1864.71" fill="none" stroke="#000" stroke-width="0.92"/>
<path d="M286.10 961.5v4M548.90 961.5v4M811.60 961.5v4M1074.50 961.5v4M1338.50 961.5v4M1601.50 961.5v4M1864.40 961.5v4M259.5 961.50h-4M259.5 823.00h-4M259.5 684.50h-4M259.5 545.50h-4M259.5 407.50h-4M259.5 269.00h-4M259.5 130.00h-4" stroke="#000" stroke-width="0.92" fill="none"/>
<text x="286.10" y="978.0" font-size="11.5" text-anchor="middle" textLength="6.85" lengthAdjust="spacingAndGlyphs">0</text>
<text x="548.90" y="978.0" font-size="11.5" text-anchor="middle" textLength="20.55" lengthAdjust="spacingAndGlyphs">100</text>
<text x="811.60" y="978.0" font-size="11.5" text-anchor="middle" textLength="20.55" lengthAdjust="spacingAndGlyphs">200</text>
<text x="1074.50" y="978.0" font-size="11.5" text-anchor="middle" textLength="20.55" lengthAdjust="spacingAndGlyphs">300</text>
<text x="1338.50" y="978.0" font-size="11.5" text-anchor="middle" textLength="20.55" lengthAdjust="spacingAndGlyphs">400</text>
<text x="1601.50" y="978.0" font-size="11.5" text-anchor="middle" textLength="20.55" lengthAdjust="spacingAndGlyphs">500</text>
<text x="1864.40" y="978.0" font-size="11.5" text-anchor="middle" textLength="20.55" lengthAdjust="spacingAndGlyphs">600</text>
<text x="250.4" y="965.90" font-size="11.5" text-anchor="end" textLength="23.30" lengthAdjust="spacingAndGlyphs">−30</text>
<text x="250.4" y="827.40" font-size="11.5" text-anchor="end" textLength="23.30" lengthAdjust="spacingAndGlyphs">−20</text>
<text x="250.4" y="688.90" font-size="11.5" text-anchor="end" textLength="23.30" lengthAdjust="spacingAndGlyphs">−10</text>
<text x="250.4" y="549.90" font-size="11.5" text-anchor="end" textLength="6.85" lengthAdjust="spacingAndGlyphs">0</text>
<text x="250.4" y="411.90" font-size="11.5" text-anchor="end" textLength="13.70" lengthAdjust="spacingAndGlyphs">10</text>
<text x="250.4" y="273.40" font-size="11.5" text-anchor="end" textLength="13.70" lengthAdjust="spacingAndGlyphs">20</text>
<text x="250.4" y="134.40" font-size="11.5" text-anchor="end" textLength="13.70" lengthAdjust="spacingAndGlyphs">30</text>
<text x="1061.5" y="993.1" font-size="11.5" text-anchor="middle" textLength="107.5" lengthAdjust="spacingAndGlyphs">Ticks normalizados</text>
<text transform="translate(219.1 546.4) rotate(-90)" x="0" y="0" font-size="11.5" text-anchor="middle" textLength="176.0" lengthAdjust="spacingAndGlyphs">Tempo diff (ms): Server - Client</text>
<text x="1059.0" y="89.0" font-size="13.7" text-anchor="middle" textLength="282" lengthAdjust="spacingAndGlyphs">Diferença de tempo entre Server e Client.</text>
<text x="1061.3" y="105.6" font-size="13.7" text-anchor="middle" textLength="187.5" lengthAdjust="spacingAndGlyphs">y &gt; 0: client tickou primeiro</text>
<text x="1061.3" y="122.4" font-size="13.7" text-anchor="middle" textLength="193.3" lengthAdjust="spacingAndGlyphs">y &lt; 0: server tickou primeiro</text>
<rect x="1395.2" y="135.4" width="463.00" height="263.70" rx="2.8" ry="2.8" fill="#ffffff" fill-opacity="0.8" stroke="#cccccc" stroke-opacity="0.8" stroke-width="1.05"/>
<path d="M1399.6 144.90H1422.4" stroke="#000" stroke-width="1.14" stroke-dasharray="1.14 1.88"/>
<text x="1430.9" y="149.30" font-size="11.5" textLength="415.60" lengthAdjust="spacingAndGlyphs">Entrada: 1 | rtt_nsec = 11451800 | server_accumulator_nsec = 16252917</text>
<path d="M1399.6 162.24H1422.4" stroke="#000" stroke-width="1.14" stroke-dasharray="1.14 1.88"/>
<text x="1430.9" y="166.64" font-size="11.5" textLength="408.40" lengthAdjust="spacingAndGlyphs">Entrada: 2 | rtt_nsec = 11107400 | server_accumulator_nsec = 3139965</text>
<path d="M1399.6 179.58H1422.4" stroke="#000" stroke-width="1.14" stroke-dasharray="1.14 1.88"/>
<text x="1430.9" y="183.98" font-size="11.5" textLength="408.40" lengthAdjust="spacingAndGlyphs">Entrada: 3 | rtt_nsec = 10795100 | server_accumulator_nsec = 5321366</text>
<path d="M1399.6 196.92H1422.4" stroke="#000" stroke-width="1.14" stroke-dasharray="1.14 1.88"/>
<text x="1430.9" y="201.32" font-size="11.5" textLength="415.60" lengthAdjust="spacingAndGlyphs">Entrada: 4 | rtt_nsec = 28504300 | server_accumulator_nsec = 10111167</text>
<path d="M1399.6 214.26H1422.4" stroke="#000" stroke-width="1.14" stroke-dasharray="1.14 1.88"/>
<text x="1430.9" y="218.66" font-size="11.5" textLength="416.00" lengthAdjust="spacingAndGlyphs">Entrada: 5 | rtt_nsec = 11156500 | server_accumulator_nsec = 11988699</text>
<path d="M1399.6 231.60H1422.4" stroke="#000" stroke-width="1.14" stroke-dasharray="1.14 1.88"/>
<text x="1430.9" y="236.00" font-size="11.5" textLength="407.90" lengthAdjust="spacingAndGlyphs">Entrada: 6 | rtt_nsec = 27492400 | server_accumulator_nsec = 2524834</text>
<path d="M1399.6 248.94H1422.4" stroke="#000" stroke-width="1.14" stroke-dasharray="1.14 1.88"/>
<text x="1430.9" y="253.34" font-size="11.5" textLength="415.60" lengthAdjust="spacingAndGlyphs">Entrada: 7 | rtt_nsec = 11697300 | server_accumulator_nsec = 18626200</text>
<path d="M1399.6 266.28H1422.4" stroke="#000" stroke-width="1.14" stroke-dasharray="1.14 1.88"/>
<text x="1430.9" y="270.68" font-size="11.5" textLength="401.00" lengthAdjust="spacingAndGlyphs">Entrada: 8 | rtt_nsec = 10860700 | server_accumulator_nsec = 704064</text>
<path d="M1399.6 283.62H1422.4" stroke="#000" stroke-width="1.14" stroke-dasharray="1.14 1.88"/>
<text x="1430.9" y="288.02" font-size="11.5" textLength="415.60" lengthAdjust="spacingAndGlyphs">Entrada: 9 | rtt_nsec = 11177100 | server_accumulator_nsec = 11723032</text>
<path d="M1399.6 300.96H1422.4" stroke="#000" stroke-width="1.14" stroke-dasharray="1.14 1.88"/>
<text x="1430.9" y="305.36" font-size="11.5" textLength="422.50" lengthAdjust="spacingAndGlyphs">Entrada: 10 | rtt_nsec = 11559700 | server_accumulator_nsec = 20168335</text>
<path d="M1399.6 318.30H1422.4" stroke="#ff0000" stroke-width="1.8" stroke-linecap="square"/>
<text x="1430.9" y="322.70" font-size="11.5" textLength="422.50" lengthAdjust="spacingAndGlyphs">Entrada: 11 | rtt_nsec = 11640400 | server_accumulator_nsec = 17321282</text>
<path d="M1399.6 335.64H1422.4" stroke="#008000" stroke-width="1.8" stroke-linecap="square"/>
<text x="1430.9" y="340.04" font-size="11.5" textLength="422.50" lengthAdjust="spacingAndGlyphs">Entrada: 12 | rtt_nsec = 28577700 | server_accumulator_nsec = 13843365</text>
<path d="M1399.6 352.98H1422.4" stroke="#0000ff" stroke-width="1.8" stroke-linecap="square"/>
<text x="1430.9" y="357.38" font-size="11.5" textLength="422.50" lengthAdjust="spacingAndGlyphs">Entrada: 13 | rtt_nsec = 27932900 | server_accumulator_nsec = 21658838</text>
<path d="M1399.6 370.32H1422.4" stroke="#00bfbf" stroke-width="1.8" stroke-linecap="square"/>
<text x="1430.9" y="374.72" font-size="11.5" textLength="415.60" lengthAdjust="spacingAndGlyphs">Entrada: 14 | rtt_nsec = 11849900 | server_accumulator_nsec = 7512738</text>
<path d="M1399.6 387.66H1422.4" stroke="#bf00bf" stroke-width="1.8" stroke-linecap="square"/>
<text x="1430.9" y="392.06" font-size="11.5" textLength="422.50" lengthAdjust="spacingAndGlyphs">Entrada: 15 | rtt_nsec = 28193300 | server_accumulator_nsec = 17372733</text>
</svg>
</body></html>
